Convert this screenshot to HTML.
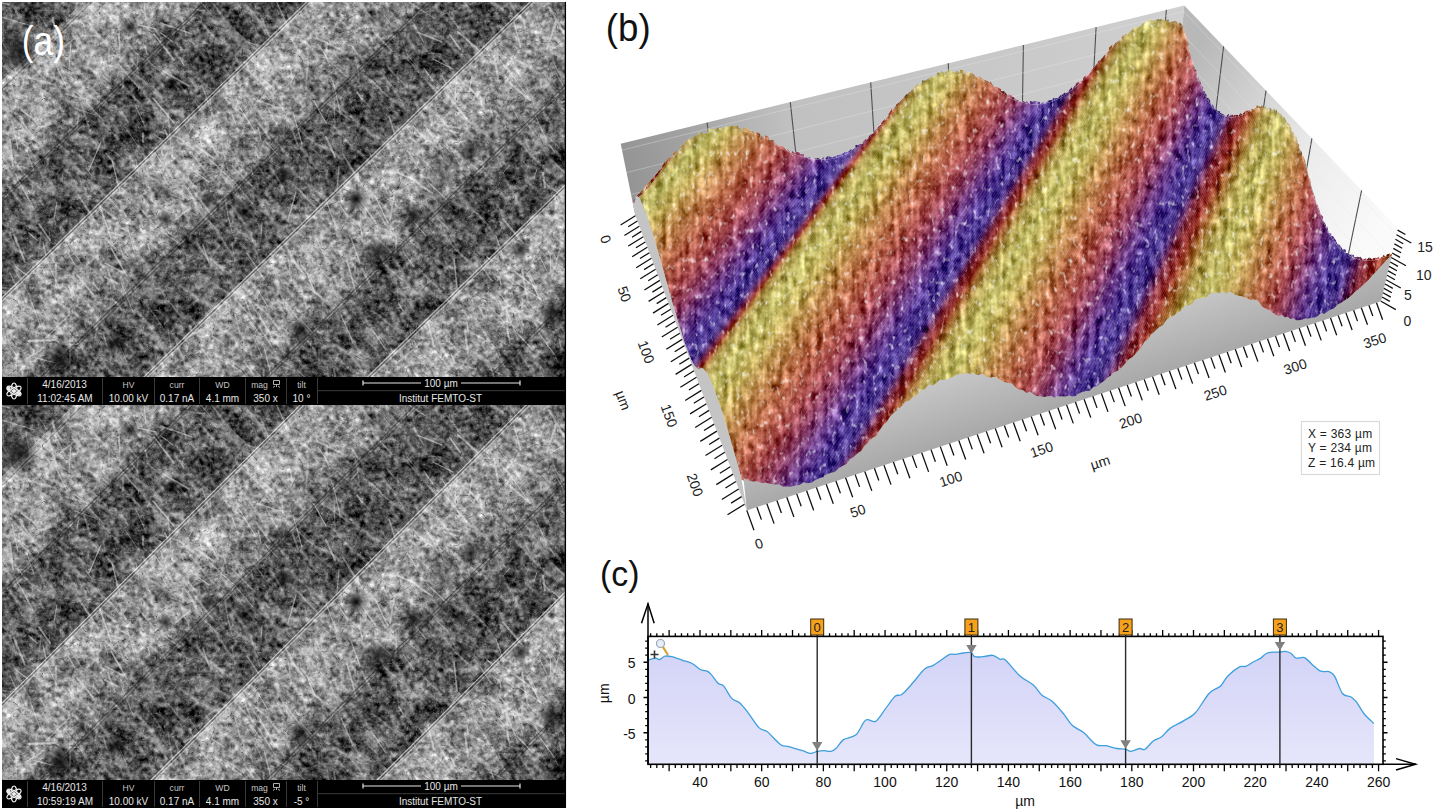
<!DOCTYPE html>
<html><head><meta charset="utf-8"><style>
html,body{margin:0;padding:0;background:#fff;width:1433px;height:811px;overflow:hidden}
svg{display:block}
</style></head><body>
<svg width="1433" height="811" viewBox="0 0 1433 811">
<rect width="1433" height="811" fill="#fff"/>
<linearGradient id="semband0" gradientUnits="userSpaceOnUse" x1="85.0" y1="0" x2="193.448" y2="111.701" spreadMethod="repeat"><stop offset="0.0000" stop-color="#929292"/><stop offset="0.0483" stop-color="#9a9a9a"/><stop offset="0.2900" stop-color="#939393"/><stop offset="0.4640" stop-color="#828282"/><stop offset="0.5414" stop-color="#686868"/><stop offset="0.5831" stop-color="#565656"/><stop offset="0.7915" stop-color="#525252"/><stop offset="0.9687" stop-color="#585858"/><stop offset="1.0000" stop-color="#5e5e5e"/></linearGradient>
<linearGradient id="semband1" gradientUnits="userSpaceOnUse" x1="76.0" y1="0" x2="189.000" y2="113.000" spreadMethod="repeat"><stop offset="0.0000" stop-color="#929292"/><stop offset="0.0454" stop-color="#9a9a9a"/><stop offset="0.2726" stop-color="#939393"/><stop offset="0.4362" stop-color="#828282"/><stop offset="0.5088" stop-color="#686868"/><stop offset="0.5535" stop-color="#565656"/><stop offset="0.7767" stop-color="#525252"/><stop offset="0.9665" stop-color="#585858"/><stop offset="1.0000" stop-color="#5e5e5e"/></linearGradient>
<filter id="semtex" x="0" y="0" width="1" height="1" color-interpolation-filters="sRGB">
<feTurbulence type="fractalNoise" baseFrequency="0.2" numOctaves="3" seed="4" result="n1"/>
<feColorMatrix in="n1" type="matrix" values="0.33 0.33 0.33 0 0 0.33 0.33 0.33 0 0 0.33 0.33 0.33 0 0 0 0 0 0 1" result="g1"/>
<feTurbulence type="fractalNoise" baseFrequency="0.04" numOctaves="3" seed="11" result="n2"/>
<feColorMatrix in="n2" type="matrix" values="0.33 0.33 0.33 0 0 0.33 0.33 0.33 0 0 0.33 0.33 0.33 0 0 0 0 0 0 1" result="g2"/>
<feComposite in="SourceGraphic" in2="g1" operator="arithmetic" k1="0" k2="1" k3="1.3" k4="-0.65" result="a"/>
<feComposite in="a" in2="g2" operator="arithmetic" k1="0" k2="1" k3="1.1" k4="-0.55"/>
</filter>
<filter id="semfib" x="0" y="0" width="1" height="1" color-interpolation-filters="sRGB">
<feTurbulence type="turbulence" baseFrequency="0.05 0.012" numOctaves="2" seed="9"/>
<feColorMatrix type="matrix" values="0 0 0 0 1 0 0 0 0 1 0 0 0 0 1 -9 0 0 0 1.3"/>
</filter>
<filter id="semfib2" x="0" y="0" width="1" height="1" color-interpolation-filters="sRGB">
<feTurbulence type="turbulence" baseFrequency="0.07" numOctaves="3" seed="21"/>
<feColorMatrix type="matrix" values="0 0 0 0 0 0 0 0 0 0 0 0 0 0 0 -7 0 0 0 0.9"/>
</filter>
<filter id="semfib3" x="0" y="0" width="1" height="1" color-interpolation-filters="sRGB">
<feTurbulence type="turbulence" baseFrequency="0.09" numOctaves="3" seed="33"/>
<feColorMatrix type="matrix" values="0 0 0 0 1 0 0 0 0 1 0 0 0 0 1 -7 0 0 0 0.9"/>
</filter>
<radialGradient id="dspot"><stop offset="0" stop-color="#000" stop-opacity="0.75"/><stop offset="0.5" stop-color="#000" stop-opacity="0.35"/><stop offset="1" stop-color="#000" stop-opacity="0"/></radialGradient>
<radialGradient id="bspot"><stop offset="0" stop-color="#fff" stop-opacity="0.35"/><stop offset="1" stop-color="#fff" stop-opacity="0"/></radialGradient>
<clipPath id="semclip"><rect x="2" y="2" width="564" height="375"/></clipPath>
<g transform="translate(0,0)">
<g clip-path="url(#semclip)">
<g>
<rect x="2" y="2" width="564" height="375" fill="url(#semband0)" filter="url(#semtex)"/>
<g transform="translate(284,190) rotate(-45)" opacity="0.3"><rect x="-360" y="-360" width="720" height="720" filter="url(#semfib)"/></g>
<rect x="2" y="2" width="564" height="375" filter="url(#semfib2)" opacity="0.45"/>
<rect x="2" y="2" width="564" height="375" filter="url(#semfib3)" opacity="0.3"/>
<g id="fibs" stroke="#f4f4f4" fill="none" stroke-linecap="round"><path d="M179 57l5 8" stroke-opacity="0.35" stroke-width="1.1"/><path d="M40 159l6 13" stroke-opacity="0.22" stroke-width="1.1"/><path d="M544 240l13 19" stroke-opacity="0.27" stroke-width="1.3"/><path d="M330 243l9 15" stroke-opacity="0.22" stroke-width="1.1"/><path d="M352 189l20 8" stroke-opacity="0.31" stroke-width="1.3"/><path d="M326 200l9 25" stroke-opacity="0.49" stroke-width="1.1"/><path d="M289 63l4 16" stroke-opacity="0.49" stroke-width="1.1"/><path d="M437 218l12 11" stroke-opacity="0.34" stroke-width="1.1"/><path d="M543 180l6 7" stroke-opacity="0.39" stroke-width="2.0"/><path d="M156 147l3 8" stroke-opacity="0.22" stroke-width="1.6"/><path d="M66 94l18 5" stroke-opacity="0.33" stroke-width="1.6"/><path d="M507 311l11 29" stroke-opacity="0.32" stroke-width="1.6"/><path d="M389 145l3 14" stroke-opacity="0.20" stroke-width="1.3"/><path d="M144 2l2 19" stroke-opacity="0.37" stroke-width="1.3"/><path d="M394 196l-4 24" stroke-opacity="0.43" stroke-width="2.0"/><path d="M223 150l5 20" stroke-opacity="0.26" stroke-width="1.3"/><path d="M248 42l10 4" stroke-opacity="0.38" stroke-width="1.1"/><path d="M62 323l21 27" stroke-opacity="0.35" stroke-width="1.1"/><path d="M74 285l16 22" stroke-opacity="0.26" stroke-width="1.6"/><path d="M299 372l19 17" stroke-opacity="0.31" stroke-width="1.3"/><path d="M284 242l11 21" stroke-opacity="0.27" stroke-width="2.0"/><path d="M153 98l21 25" stroke-opacity="0.48" stroke-width="1.6"/><path d="M123 75l0 13" stroke-opacity="0.34" stroke-width="1.6"/><path d="M458 32l24 21" stroke-opacity="0.43" stroke-width="2.0"/><path d="M510 165l-7 8" stroke-opacity="0.34" stroke-width="1.1"/><path d="M78 344l-12 1" stroke-opacity="0.40" stroke-width="1.6"/><path d="M428 53l13 1" stroke-opacity="0.26" stroke-width="1.3"/><path d="M437 124l22 4" stroke-opacity="0.42" stroke-width="2.0"/><path d="M474 334l10 5" stroke-opacity="0.43" stroke-width="1.1"/><path d="M352 46l5 8" stroke-opacity="0.36" stroke-width="2.0"/><path d="M135 105l9 19" stroke-opacity="0.33" stroke-width="1.3"/><path d="M395 172l20 8" stroke-opacity="0.48" stroke-width="1.6"/><path d="M252 158l11 15" stroke-opacity="0.26" stroke-width="1.6"/><path d="M449 341l8 9" stroke-opacity="0.40" stroke-width="1.3"/><path d="M138 52l-1 20" stroke-opacity="0.25" stroke-width="1.3"/><path d="M412 7l3 22" stroke-opacity="0.21" stroke-width="1.6"/><path d="M293 112l9 32" stroke-opacity="0.46" stroke-width="1.1"/><path d="M145 15l16 23" stroke-opacity="0.24" stroke-width="2.0"/><path d="M487 257l14 12" stroke-opacity="0.30" stroke-width="1.6"/><path d="M32 357l24 6" stroke-opacity="0.46" stroke-width="1.1"/><path d="M145 46l2 8" stroke-opacity="0.47" stroke-width="1.3"/><path d="M15 270l17 29" stroke-opacity="0.25" stroke-width="1.6"/><path d="M358 202l8 11" stroke-opacity="0.44" stroke-width="1.6"/><path d="M562 195l9 11" stroke-opacity="0.40" stroke-width="2.0"/><path d="M374 207l18 26" stroke-opacity="0.26" stroke-width="1.3"/><path d="M190 316l13 21" stroke-opacity="0.24" stroke-width="1.1"/><path d="M395 17l5 12" stroke-opacity="0.20" stroke-width="1.6"/><path d="M199 0l12 14" stroke-opacity="0.35" stroke-width="1.1"/><path d="M43 310l6 10" stroke-opacity="0.32" stroke-width="1.6"/><path d="M300 285l7 24" stroke-opacity="0.30" stroke-width="2.0"/><path d="M77 275l16 19" stroke-opacity="0.45" stroke-width="2.0"/><path d="M296 192l-8 28" stroke-opacity="0.47" stroke-width="1.3"/><path d="M40 16l18 27" stroke-opacity="0.21" stroke-width="1.3"/><path d="M276 1l12 25" stroke-opacity="0.36" stroke-width="1.1"/><path d="M426 180l21 20" stroke-opacity="0.43" stroke-width="1.3"/><path d="M423 371l17 12" stroke-opacity="0.43" stroke-width="1.3"/><path d="M35 56l6 13" stroke-opacity="0.29" stroke-width="1.3"/><path d="M383 263l19 17" stroke-opacity="0.34" stroke-width="1.1"/><path d="M571 209l8 14" stroke-opacity="0.34" stroke-width="1.6"/><path d="M258 312l16 29" stroke-opacity="0.48" stroke-width="1.3"/><path d="M34 34l4 14" stroke-opacity="0.38" stroke-width="1.6"/><path d="M509 267l1 14" stroke-opacity="0.21" stroke-width="1.1"/><path d="M546 259l13 14" stroke-opacity="0.24" stroke-width="1.6"/><path d="M-9 285l-7 9" stroke-opacity="0.47" stroke-width="1.6"/><path d="M138 25l18 4" stroke-opacity="0.48" stroke-width="1.6"/><path d="M490 107l3 9" stroke-opacity="0.39" stroke-width="1.3"/><path d="M101 142l-12 28" stroke-opacity="0.47" stroke-width="1.3"/><path d="M411 19l13 24" stroke-opacity="0.29" stroke-width="1.1"/><path d="M233 107l12 9" stroke-opacity="0.40" stroke-width="2.0"/><path d="M119 344l8 18" stroke-opacity="0.30" stroke-width="1.1"/><path d="M177 140l10 27" stroke-opacity="0.21" stroke-width="2.0"/><path d="M326 137l9 20" stroke-opacity="0.47" stroke-width="2.0"/><path d="M224 169l-30 13" stroke-opacity="0.21" stroke-width="1.1"/><path d="M239 290l1 29" stroke-opacity="0.22" stroke-width="2.0"/><path d="M80 198l18 27" stroke-opacity="0.39" stroke-width="2.0"/><path d="M40 295l4 7" stroke-opacity="0.41" stroke-width="1.3"/><path d="M356 201l10 17" stroke-opacity="0.23" stroke-width="1.6"/><path d="M121 228l8 3" stroke-opacity="0.39" stroke-width="1.3"/><path d="M268 89l-9 12" stroke-opacity="0.29" stroke-width="1.1"/><path d="M104 336l3 10" stroke-opacity="0.33" stroke-width="1.6"/><path d="M123 13l9 14" stroke-opacity="0.44" stroke-width="1.1"/><path d="M470 88l9 11" stroke-opacity="0.29" stroke-width="2.0"/><path d="M523 21l23 4" stroke-opacity="0.21" stroke-width="1.3"/><path d="M56 30l8 9" stroke-opacity="0.34" stroke-width="1.6"/><path d="M154 134l9 7" stroke-opacity="0.31" stroke-width="1.6"/><path d="M471 164l7 6" stroke-opacity="0.31" stroke-width="2.0"/><path d="M103 138l2 8" stroke-opacity="0.21" stroke-width="1.1"/><path d="M261 305l8 5" stroke-opacity="0.22" stroke-width="1.6"/><path d="M202 127l16 29" stroke-opacity="0.48" stroke-width="1.6"/><path d="M-8 287l24 2" stroke-opacity="0.27" stroke-width="2.0"/><path d="M409 177l23 16" stroke-opacity="0.47" stroke-width="2.0"/><path d="M535 115l11 24" stroke-opacity="0.34" stroke-width="1.1"/><path d="M309 61l-3 19" stroke-opacity="0.22" stroke-width="1.1"/><path d="M112 160l8 32" stroke-opacity="0.47" stroke-width="1.3"/><path d="M428 322l6 25" stroke-opacity="0.45" stroke-width="1.6"/><path d="M142 167l7 10" stroke-opacity="0.26" stroke-width="1.1"/><path d="M222 377l-4 21" stroke-opacity="0.44" stroke-width="2.0"/><path d="M570 39l-18 10" stroke-opacity="0.47" stroke-width="1.1"/><path d="M503 88l4 9" stroke-opacity="0.22" stroke-width="1.3"/><path d="M253 99l27 9" stroke-opacity="0.38" stroke-width="1.6"/><path d="M173 77l14 17" stroke-opacity="0.23" stroke-width="2.0"/><path d="M568 254l9 16" stroke-opacity="0.32" stroke-width="1.1"/><path d="M105 277l12 6" stroke-opacity="0.47" stroke-width="2.0"/><path d="M56 34l10 21" stroke-opacity="0.22" stroke-width="1.3"/><path d="M75 108l20 7" stroke-opacity="0.35" stroke-width="1.3"/><path d="M524 120l14 19" stroke-opacity="0.23" stroke-width="1.3"/><path d="M365 326l19 15" stroke-opacity="0.21" stroke-width="1.3"/><path d="M414 341l4 8" stroke-opacity="0.43" stroke-width="1.1"/><path d="M257 323l15 24" stroke-opacity="0.32" stroke-width="1.6"/><path d="M251 167l2 8" stroke-opacity="0.35" stroke-width="1.3"/><path d="M251 235l9 28" stroke-opacity="0.22" stroke-width="1.6"/><path d="M288 15l4 9" stroke-opacity="0.22" stroke-width="2.0"/><path d="M29 233l8 7" stroke-opacity="0.47" stroke-width="1.6"/><path d="M451 354l4 9" stroke-opacity="0.47" stroke-width="1.6"/><path d="M106 153l9 12" stroke-opacity="0.31" stroke-width="1.6"/><path d="M57 202l-3 17" stroke-opacity="0.37" stroke-width="1.1"/><path d="M137 204l19 23" stroke-opacity="0.31" stroke-width="1.3"/><path d="M93 283l6 7" stroke-opacity="0.39" stroke-width="1.6"/><path d="M160 238l5 18" stroke-opacity="0.21" stroke-width="2.0"/><path d="M123 248l5 7" stroke-opacity="0.31" stroke-width="1.3"/><path d="M232 114l4 11" stroke-opacity="0.45" stroke-width="1.3"/><path d="M77 36l-19 16" stroke-opacity="0.32" stroke-width="1.6"/><path d="M556 21l-9 28" stroke-opacity="0.37" stroke-width="2.0"/><path d="M24 296l3 8" stroke-opacity="0.26" stroke-width="2.0"/><path d="M466 66l8 14" stroke-opacity="0.21" stroke-width="2.0"/><path d="M409 2l25 16" stroke-opacity="0.34" stroke-width="1.3"/><path d="M573 99l-11 3" stroke-opacity="0.48" stroke-width="1.6"/><path d="M245 300l8 20" stroke-opacity="0.39" stroke-width="1.3"/><path d="M519 320l4 13" stroke-opacity="0.32" stroke-width="1.3"/><path d="M212 324l-28 15" stroke-opacity="0.36" stroke-width="2.0"/><path d="M481 265l11 16" stroke-opacity="0.37" stroke-width="1.6"/><path d="M452 149l10 21" stroke-opacity="0.23" stroke-width="1.3"/><path d="M14 263l11 24" stroke-opacity="0.22" stroke-width="1.6"/><path d="M379 334l12 23" stroke-opacity="0.21" stroke-width="1.1"/><path d="M48 37l8 27" stroke-opacity="0.30" stroke-width="2.0"/><path d="M143 133l0 9" stroke-opacity="0.38" stroke-width="2.0"/><path d="M232 166l20 20" stroke-opacity="0.41" stroke-width="1.3"/><path d="M158 166l10 19" stroke-opacity="0.30" stroke-width="1.1"/><path d="M278 303l7 11" stroke-opacity="0.30" stroke-width="1.6"/><path d="M328 60l22 19" stroke-opacity="0.25" stroke-width="1.1"/><path d="M51 124l-10 3" stroke-opacity="0.42" stroke-width="2.0"/><path d="M212 336l12 8" stroke-opacity="0.43" stroke-width="1.1"/><path d="M194 124l-6 11" stroke-opacity="0.42" stroke-width="1.3"/><path d="M125 127l15 22" stroke-opacity="0.28" stroke-width="1.3"/><path d="M413 370l16 22" stroke-opacity="0.49" stroke-width="1.6"/><path d="M560 277l10 3" stroke-opacity="0.32" stroke-width="1.3"/><path d="M105 242l3 10" stroke-opacity="0.32" stroke-width="1.1"/><path d="M-3 325l4 19" stroke-opacity="0.21" stroke-width="1.6"/><path d="M343 154l16 27" stroke-opacity="0.37" stroke-width="2.0"/><path d="M485 254l19 24" stroke-opacity="0.25" stroke-width="1.1"/><path d="M256 119l14 20" stroke-opacity="0.33" stroke-width="2.0"/><path d="M407 239l11 9" stroke-opacity="0.32" stroke-width="1.3"/><path d="M513 125l-8 2" stroke-opacity="0.23" stroke-width="1.6"/><path d="M308 61l-2 28" stroke-opacity="0.23" stroke-width="2.0"/><path d="M307 273l8 20" stroke-opacity="0.45" stroke-width="1.6"/><path d="M230 360l11 8" stroke-opacity="0.24" stroke-width="1.6"/><path d="M26 29l4 24" stroke-opacity="0.37" stroke-width="1.1"/><path d="M121 282l12 30" stroke-opacity="0.32" stroke-width="1.3"/><path d="M457 73l-2 25" stroke-opacity="0.44" stroke-width="1.3"/><path d="M197 243l16 24" stroke-opacity="0.24" stroke-width="2.0"/><path d="M210 96l2 19" stroke-opacity="0.20" stroke-width="1.6"/><path d="M515 58l2 16" stroke-opacity="0.30" stroke-width="1.3"/><path d="M161 231l19 13" stroke-opacity="0.34" stroke-width="1.3"/><path d="M347 261l9 32" stroke-opacity="0.47" stroke-width="1.6"/><path d="M105 263l19 10" stroke-opacity="0.37" stroke-width="1.6"/><path d="M235 314l5 20" stroke-opacity="0.35" stroke-width="1.3"/><path d="M341 279l7 10" stroke-opacity="0.29" stroke-width="2.0"/><path d="M209 159l24 22" stroke-opacity="0.39" stroke-width="1.1"/><path d="M2 17l33 10" stroke-opacity="0.35" stroke-width="1.3"/><path d="M10 273l7 15" stroke-opacity="0.34" stroke-width="1.3"/><path d="M21 110l14 10" stroke-opacity="0.46" stroke-width="1.6"/><path d="M560 249l-8 27" stroke-opacity="0.30" stroke-width="1.6"/><path d="M53 18l3 20" stroke-opacity="0.36" stroke-width="2.0"/><path d="M351 238l9 25" stroke-opacity="0.40" stroke-width="1.3"/><path d="M13 241l3 12" stroke-opacity="0.23" stroke-width="1.1"/><path d="M206 313l15 17" stroke-opacity="0.29" stroke-width="2.0"/><path d="M295 313l16 23" stroke-opacity="0.22" stroke-width="2.0"/><path d="M337 377l9 8" stroke-opacity="0.36" stroke-width="1.1"/><path d="M-1 2l11 3" stroke-opacity="0.46" stroke-width="1.3"/><path d="M266 105l11 20" stroke-opacity="0.31" stroke-width="1.3"/><path d="M417 32l25 10" stroke-opacity="0.48" stroke-width="1.6"/><path d="M524 20l1 9" stroke-opacity="0.39" stroke-width="2.0"/><path d="M205 218l14 13" stroke-opacity="0.24" stroke-width="1.1"/><path d="M203 245l6 18" stroke-opacity="0.44" stroke-width="1.6"/><path d="M161 23l31 11" stroke-opacity="0.45" stroke-width="1.6"/><path d="M499 276l2 8" stroke-opacity="0.49" stroke-width="1.3"/><path d="M210 260l20 24" stroke-opacity="0.20" stroke-width="1.6"/><path d="M147 60l21 18" stroke-opacity="0.29" stroke-width="1.3"/><path d="M465 330l3 23" stroke-opacity="0.41" stroke-width="2.0"/><path d="M456 76l20 18" stroke-opacity="0.38" stroke-width="2.0"/><path d="M262 79l12 9" stroke-opacity="0.44" stroke-width="2.0"/><path d="M27 151l7 20" stroke-opacity="0.35" stroke-width="1.3"/><path d="M101 73l8 9" stroke-opacity="0.31" stroke-width="1.6"/><path d="M225 197l2 12" stroke-opacity="0.23" stroke-width="2.0"/><path d="M192 197l4 8" stroke-opacity="0.50" stroke-width="2.0"/><path d="M333 81l7 31" stroke-opacity="0.38" stroke-width="1.3"/><path d="M139 14l4 13" stroke-opacity="0.23" stroke-width="1.1"/><path d="M10 140l3 26" stroke-opacity="0.46" stroke-width="2.0"/><path d="M529 268l9 5" stroke-opacity="0.27" stroke-width="1.1"/><path d="M550 254l1 18" stroke-opacity="0.50" stroke-width="1.3"/><path d="M91 358l-2 9" stroke-opacity="0.21" stroke-width="1.1"/><path d="M141 195l16 22" stroke-opacity="0.30" stroke-width="1.1"/><path d="M540 257l7 14" stroke-opacity="0.43" stroke-width="1.1"/><path d="M265 141l12 13" stroke-opacity="0.44" stroke-width="1.1"/><path d="M264 347l7 28" stroke-opacity="0.45" stroke-width="1.1"/><path d="M536 329l18 25" stroke-opacity="0.48" stroke-width="1.1"/><path d="M358 172l1 17" stroke-opacity="0.39" stroke-width="1.3"/><path d="M254 338l8 18" stroke-opacity="0.33" stroke-width="1.3"/><path d="M81 103l9 28" stroke-opacity="0.30" stroke-width="2.0"/><path d="M514 254l2 13" stroke-opacity="0.29" stroke-width="1.6"/><path d="M432 369l9 17" stroke-opacity="0.32" stroke-width="2.0"/><path d="M514 22l7 26" stroke-opacity="0.49" stroke-width="1.1"/><path d="M249 300l17 28" stroke-opacity="0.32" stroke-width="1.6"/><path d="M324 52l5 12" stroke-opacity="0.41" stroke-width="1.3"/><path d="M341 315l11 25" stroke-opacity="0.40" stroke-width="1.3"/><path d="M331 77l3 9" stroke-opacity="0.32" stroke-width="1.1"/><path d="M293 132l5 14" stroke-opacity="0.32" stroke-width="2.0"/><path d="M68 253l7 12" stroke-opacity="0.50" stroke-width="1.1"/><path d="M-7 198l2 19" stroke-opacity="0.44" stroke-width="1.6"/><path d="M446 330l14 18" stroke-opacity="0.23" stroke-width="2.0"/><path d="M251 10l2 11" stroke-opacity="0.23" stroke-width="1.3"/><path d="M549 7l16 28" stroke-opacity="0.39" stroke-width="2.0"/><path d="M296 267l-7 8" stroke-opacity="0.21" stroke-width="1.1"/><path d="M262 223l-1 11" stroke-opacity="0.47" stroke-width="1.3"/><path d="M494 56l4 22" stroke-opacity="0.48" stroke-width="2.0"/><path d="M396 227l-0 24" stroke-opacity="0.49" stroke-width="1.1"/><path d="M444 129l14 4" stroke-opacity="0.44" stroke-width="1.6"/><path d="M467 322l1 9" stroke-opacity="0.49" stroke-width="1.6"/><path d="M136 160l3 17" stroke-opacity="0.35" stroke-width="1.1"/><path d="M496 236l8 23" stroke-opacity="0.44" stroke-width="1.1"/><path d="M244 361l9 13" stroke-opacity="0.38" stroke-width="1.6"/><path d="M39 224l11 16" stroke-opacity="0.47" stroke-width="2.0"/><path d="M328 104l22 16" stroke-opacity="0.27" stroke-width="2.0"/><path d="M108 270l7 19" stroke-opacity="0.38" stroke-width="2.0"/><path d="M100 207l11 31" stroke-opacity="0.49" stroke-width="1.6"/><path d="M568 112l7 10" stroke-opacity="0.46" stroke-width="2.0"/><path d="M375 196l13 27" stroke-opacity="0.50" stroke-width="1.3"/><path d="M108 232l15 4" stroke-opacity="0.46" stroke-width="2.0"/><path d="M147 240l19 16" stroke-opacity="0.32" stroke-width="1.1"/><path d="M234 298l21 23" stroke-opacity="0.34" stroke-width="1.6"/><path d="M161 148l6 22" stroke-opacity="0.30" stroke-width="2.0"/><path d="M213 114l4 22" stroke-opacity="0.31" stroke-width="1.3"/><path d="M41 350l-14 8" stroke-opacity="0.49" stroke-width="1.3"/><path d="M559 339l2 8" stroke-opacity="0.36" stroke-width="1.6"/><path d="M293 260l11 14" stroke-opacity="0.38" stroke-width="1.6"/><path d="M439 342l11 21" stroke-opacity="0.31" stroke-width="1.6"/><path d="M55 340l-26 1" stroke-opacity="0.47" stroke-width="2.0"/><path d="M359 199l17 24" stroke-opacity="0.47" stroke-width="2.0"/><path d="M97 239l1 24" stroke-opacity="0.21" stroke-width="2.0"/><path d="M-4 1l7 21" stroke-opacity="0.23" stroke-width="1.1"/><path d="M314 101l12 22" stroke-opacity="0.50" stroke-width="1.3"/><path d="M90 199l23 5" stroke-opacity="0.20" stroke-width="1.6"/><path d="M74 91l12 9" stroke-opacity="0.48" stroke-width="1.1"/><path d="M194 171l15 11" stroke-opacity="0.47" stroke-width="1.1"/><path d="M16 354l1 30" stroke-opacity="0.29" stroke-width="1.6"/><path d="M552 188l11 10" stroke-opacity="0.42" stroke-width="1.3"/><path d="M232 151l10 24" stroke-opacity="0.25" stroke-width="2.0"/><path d="M318 44l12 18" stroke-opacity="0.32" stroke-width="1.1"/><path d="M552 160l16 16" stroke-opacity="0.33" stroke-width="1.6"/><path d="M479 306l5 11" stroke-opacity="0.42" stroke-width="2.0"/><path d="M358 221l5 15" stroke-opacity="0.40" stroke-width="1.6"/><path d="M339 167l-2 22" stroke-opacity="0.35" stroke-width="1.3"/><path d="M500 47l11 18" stroke-opacity="0.32" stroke-width="1.3"/><path d="M172 148l-0 10" stroke-opacity="0.46" stroke-width="1.6"/><path d="M525 306l14 24" stroke-opacity="0.29" stroke-width="2.0"/><path d="M155 153l18 26" stroke-opacity="0.46" stroke-width="1.3"/><path d="M538 67l12 13" stroke-opacity="0.21" stroke-width="2.0"/><path d="M358 69l-7 8" stroke-opacity="0.41" stroke-width="1.1"/><path d="M433 59l20 10" stroke-opacity="0.48" stroke-width="1.3"/><path d="M324 272l8 12" stroke-opacity="0.20" stroke-width="1.6"/><path d="M517 333l16 17" stroke-opacity="0.49" stroke-width="1.1"/><path d="M12 121l6 28" stroke-opacity="0.42" stroke-width="1.3"/><path d="M154 34l20 26" stroke-opacity="0.48" stroke-width="2.0"/><path d="M288 257l2 13" stroke-opacity="0.35" stroke-width="1.3"/><path d="M16 267l12 9" stroke-opacity="0.49" stroke-width="1.3"/><path d="M308 95l6 7" stroke-opacity="0.29" stroke-width="1.3"/><path d="M391 185l8 19" stroke-opacity="0.20" stroke-width="2.0"/><path d="M68 244l15 22" stroke-opacity="0.27" stroke-width="1.1"/><path d="M311 289l10 8" stroke-opacity="0.38" stroke-width="2.0"/><path d="M481 154l2 13" stroke-opacity="0.21" stroke-width="1.6"/><path d="M553 61l9 18" stroke-opacity="0.29" stroke-width="1.1"/><path d="M17 178l16 29" stroke-opacity="0.42" stroke-width="1.6"/><path d="M101 206l-4 7" stroke-opacity="0.39" stroke-width="1.6"/><path d="M372 30l19 20" stroke-opacity="0.32" stroke-width="1.3"/><path d="M163 71l26 15" stroke-opacity="0.44" stroke-width="1.6"/><path d="M424 124l7 11" stroke-opacity="0.31" stroke-width="1.6"/><path d="M480 96l2 9" stroke-opacity="0.50" stroke-width="2.0"/><path d="M282 60l14 6" stroke-opacity="0.22" stroke-width="1.3"/><path d="M86 168l6 8" stroke-opacity="0.42" stroke-width="1.1"/><path d="M9 232l9 20" stroke-opacity="0.22" stroke-width="1.1"/><path d="M247 253l17 26" stroke-opacity="0.37" stroke-width="1.6"/><path d="M356 59l3 18" stroke-opacity="0.22" stroke-width="1.1"/><path d="M413 126l17 18" stroke-opacity="0.40" stroke-width="1.3"/><path d="M165 130l3 8" stroke-opacity="0.40" stroke-width="2.0"/><path d="M429 84l17 19" stroke-opacity="0.27" stroke-width="2.0"/><path d="M123 218l9 7" stroke-opacity="0.38" stroke-width="1.1"/><path d="M488 258l10 5" stroke-opacity="0.48" stroke-width="1.1"/><path d="M556 73l10 18" stroke-opacity="0.31" stroke-width="1.1"/><path d="M401 363l1 20" stroke-opacity="0.23" stroke-width="1.3"/><path d="M319 349l-0 12" stroke-opacity="0.30" stroke-width="1.1"/><path d="M421 360l15 22" stroke-opacity="0.36" stroke-width="1.1"/><path d="M10 346l8 12" stroke-opacity="0.41" stroke-width="1.1"/><path d="M2 42l7 11" stroke-opacity="0.31" stroke-width="1.3"/><path d="M334 95l1 28" stroke-opacity="0.33" stroke-width="1.1"/><path d="M501 304l3 9" stroke-opacity="0.32" stroke-width="2.0"/><path d="M556 263l16 12" stroke-opacity="0.49" stroke-width="1.1"/><path d="M201 201l10 13" stroke-opacity="0.45" stroke-width="2.0"/><path d="M184 178l19 26" stroke-opacity="0.30" stroke-width="2.0"/><path d="M185 8l20 3" stroke-opacity="0.24" stroke-width="1.3"/><path d="M143 216l-22 1" stroke-opacity="0.21" stroke-width="1.1"/><path d="M500 294l15 19" stroke-opacity="0.44" stroke-width="1.3"/><path d="M389 116l8 26" stroke-opacity="0.39" stroke-width="1.6"/><path d="M501 272l12 12" stroke-opacity="0.43" stroke-width="1.6"/><path d="M513 308l30 16" stroke-opacity="0.26" stroke-width="2.0"/><path d="M227 151l-8 27" stroke-opacity="0.24" stroke-width="1.6"/><path d="M137 217l24 6" stroke-opacity="0.26" stroke-width="1.1"/><path d="M264 369l-1 26" stroke-opacity="0.30" stroke-width="1.3"/><path d="M86 102l18 19" stroke-opacity="0.32" stroke-width="1.3"/><path d="M512 107l10 19" stroke-opacity="0.24" stroke-width="1.1"/><path d="M36 308l11 29" stroke-opacity="0.24" stroke-width="1.3"/><path d="M148 244l2 8" stroke-opacity="0.46" stroke-width="1.1"/><path d="M370 154l7 15" stroke-opacity="0.32" stroke-width="1.1"/><path d="M41 233l-4 33" stroke-opacity="0.21" stroke-width="1.6"/><path d="M349 275l11 12" stroke-opacity="0.25" stroke-width="1.3"/><path d="M300 319l12 13" stroke-opacity="0.46" stroke-width="1.3"/><path d="M375 229l2 17" stroke-opacity="0.28" stroke-width="2.0"/><path d="M442 371l19 7" stroke-opacity="0.24" stroke-width="1.1"/><path d="M317 38l26 13" stroke-opacity="0.39" stroke-width="2.0"/><path d="M68 23l12 17" stroke-opacity="0.25" stroke-width="1.6"/><path d="M421 343l-24 20" stroke-opacity="0.36" stroke-width="1.6"/><path d="M445 92l21 26" stroke-opacity="0.44" stroke-width="2.0"/><path d="M114 300l6 7" stroke-opacity="0.20" stroke-width="2.0"/><path d="M210 345l8 16" stroke-opacity="0.21" stroke-width="2.0"/><path d="M239 106l16 26" stroke-opacity="0.49" stroke-width="1.3"/><path d="M269 355l25 12" stroke-opacity="0.29" stroke-width="1.1"/><path d="M184 185l19 25" stroke-opacity="0.34" stroke-width="1.1"/><path d="M506 80l24 20" stroke-opacity="0.43" stroke-width="2.0"/><path d="M97 328l-3 16" stroke-opacity="0.20" stroke-width="1.6"/><path d="M78 280l-1 11" stroke-opacity="0.40" stroke-width="1.1"/><path d="M232 244l3 18" stroke-opacity="0.26" stroke-width="1.1"/><path d="M570 120l8 8" stroke-opacity="0.24" stroke-width="2.0"/><path d="M360 207l2 34" stroke-opacity="0.22" stroke-width="1.3"/><path d="M489 369l13 6" stroke-opacity="0.41" stroke-width="1.1"/><path d="M145 26l7 6" stroke-opacity="0.31" stroke-width="1.1"/><path d="M181 16l5 19" stroke-opacity="0.30" stroke-width="2.0"/><path d="M565 332l17 6" stroke-opacity="0.32" stroke-width="2.0"/><path d="M506 305l2 31" stroke-opacity="0.27" stroke-width="1.6"/><path d="M396 277l3 29" stroke-opacity="0.21" stroke-width="1.1"/><path d="M227 212l5 19" stroke-opacity="0.34" stroke-width="1.1"/><path d="M190 208l-14 11" stroke-opacity="0.46" stroke-width="1.6"/><path d="M407 150l12 18" stroke-opacity="0.39" stroke-width="1.3"/><path d="M531 291l-13 6" stroke-opacity="0.30" stroke-width="2.0"/><path d="M433 138l9 10" stroke-opacity="0.31" stroke-width="1.3"/><path d="M79 251l-11 6" stroke-opacity="0.40" stroke-width="1.1"/><path d="M178 137l24 19" stroke-opacity="0.31" stroke-width="1.6"/><path d="M573 264l4 19" stroke-opacity="0.44" stroke-width="1.3"/><path d="M376 237l15 15" stroke-opacity="0.37" stroke-width="1.1"/><path d="M324 22l6 11" stroke-opacity="0.27" stroke-width="2.0"/><path d="M43 242l3 13" stroke-opacity="0.44" stroke-width="1.6"/><path d="M529 273l8 16" stroke-opacity="0.33" stroke-width="1.6"/><path d="M196 146l19 13" stroke-opacity="0.49" stroke-width="1.6"/><path d="M27 77l29 8" stroke-opacity="0.33" stroke-width="2.0"/><path d="M298 189l19 20" stroke-opacity="0.34" stroke-width="2.0"/><path d="M233 180l20 24" stroke-opacity="0.35" stroke-width="1.1"/><path d="M119 29l1 29" stroke-opacity="0.37" stroke-width="1.1"/><path d="M472 76l-3 17" stroke-opacity="0.42" stroke-width="1.3"/><path d="M574 310l2 12" stroke-opacity="0.36" stroke-width="1.1"/><path d="M99 205l16 14" stroke-opacity="0.29" stroke-width="2.0"/><path d="M168 329l5 30" stroke-opacity="0.26" stroke-width="1.1"/><path d="M111 248l16 28" stroke-opacity="0.48" stroke-width="1.6"/><path d="M20 119l13 17" stroke-opacity="0.37" stroke-width="1.6"/><path d="M11 83l5 19" stroke-opacity="0.38" stroke-width="2.0"/><path d="M537 169l-3 9" stroke-opacity="0.39" stroke-width="1.1"/><path d="M70 334l-0 29" stroke-opacity="0.42" stroke-width="1.3"/><path d="M281 256l11 23" stroke-opacity="0.26" stroke-width="1.3"/><path d="M49 36l8 27" stroke-opacity="0.40" stroke-width="1.6"/><path d="M403 168l-18 5" stroke-opacity="0.24" stroke-width="1.3"/><path d="M479 112l9 11" stroke-opacity="0.25" stroke-width="1.6"/><path d="M458 372l2 18" stroke-opacity="0.31" stroke-width="1.6"/><path d="M121 207l5 9" stroke-opacity="0.40" stroke-width="1.1"/><path d="M13 134l18 17" stroke-opacity="0.40" stroke-width="1.1"/><path d="M160 132l20 6" stroke-opacity="0.35" stroke-width="1.6"/><path d="M340 205l6 9" stroke-opacity="0.45" stroke-width="1.3"/><path d="M79 114l-2 12" stroke-opacity="0.34" stroke-width="1.6"/><path d="M424 68l9 13" stroke-opacity="0.37" stroke-width="1.3"/><path d="M290 37l13 21" stroke-opacity="0.37" stroke-width="1.6"/><path d="M35 276l14 23" stroke-opacity="0.20" stroke-width="2.0"/><path d="M130 58l9 12" stroke-opacity="0.30" stroke-width="1.3"/><path d="M109 48l-0 14" stroke-opacity="0.47" stroke-width="1.1"/><path d="M52 20l12 23" stroke-opacity="0.25" stroke-width="1.6"/><path d="M574 161l6 9" stroke-opacity="0.24" stroke-width="1.3"/><path d="M127 226l8 27" stroke-opacity="0.38" stroke-width="1.1"/><path d="M14 235l11 27" stroke-opacity="0.44" stroke-width="2.0"/><path d="M336 69l-13 10" stroke-opacity="0.21" stroke-width="1.3"/><path d="M457 293l-7 11" stroke-opacity="0.41" stroke-width="1.1"/><path d="M281 296l19 26" stroke-opacity="0.39" stroke-width="1.6"/><path d="M450 35l10 14" stroke-opacity="0.49" stroke-width="2.0"/><path d="M69 315l-23 23" stroke-opacity="0.45" stroke-width="1.3"/><path d="M245 314l17 23" stroke-opacity="0.49" stroke-width="1.1"/><path d="M30 298l10 27" stroke-opacity="0.38" stroke-width="1.3"/><path d="M503 219l20 24" stroke-opacity="0.40" stroke-width="2.0"/><path d="M454 259l3 29" stroke-opacity="0.45" stroke-width="1.6"/><path d="M168 114l3 33" stroke-opacity="0.32" stroke-width="1.6"/><path d="M258 127l3 13" stroke-opacity="0.45" stroke-width="1.1"/><path d="M161 33l12 9" stroke-opacity="0.44" stroke-width="1.1"/><path d="M117 238l6 17" stroke-opacity="0.30" stroke-width="1.3"/><path d="M202 85l8 23" stroke-opacity="0.35" stroke-width="1.3"/><path d="M491 368l6 17" stroke-opacity="0.46" stroke-width="1.1"/><path d="M543 173l2 14" stroke-opacity="0.46" stroke-width="2.0"/><path d="M69 286l4 14" stroke-opacity="0.35" stroke-width="1.6"/><path d="M250 364l11 13" stroke-opacity="0.36" stroke-width="1.1"/><path d="M561 22l19 22" stroke-opacity="0.37" stroke-width="2.0"/><path d="M172 195l11 4" stroke-opacity="0.34" stroke-width="1.1"/><path d="M334 219l3 9" stroke-opacity="0.42" stroke-width="1.6"/><path d="M357 92l5 7" stroke-opacity="0.49" stroke-width="2.0"/><path d="M518 123l12 27" stroke-opacity="0.21" stroke-width="1.6"/><path d="M513 76l17 24" stroke-opacity="0.40" stroke-width="1.1"/><path d="M334 369l2 17" stroke-opacity="0.28" stroke-width="2.0"/><path d="M53 99l4 18" stroke-opacity="0.26" stroke-width="2.0"/><path d="M303 251l16 26" stroke-opacity="0.22" stroke-width="2.0"/><path d="M202 349l13 17" stroke-opacity="0.43" stroke-width="1.1"/><path d="M301 265l10 13" stroke-opacity="0.31" stroke-width="1.3"/><path d="M508 333l2 10" stroke-opacity="0.41" stroke-width="1.6"/><path d="M87 67l23 14" stroke-opacity="0.24" stroke-width="2.0"/><path d="M221 357l22 16" stroke-opacity="0.30" stroke-width="1.3"/><path d="M407 54l12 15" stroke-opacity="0.26" stroke-width="1.1"/><path d="M531 25l1 8" stroke-opacity="0.27" stroke-width="2.0"/><path d="M484 300l20 22" stroke-opacity="0.35" stroke-width="1.6"/><path d="M516 282l24 17" stroke-opacity="0.46" stroke-width="1.3"/><path d="M514 271l22 17" stroke-opacity="0.47" stroke-width="1.6"/><path d="M45 257l14 30" stroke-opacity="0.41" stroke-width="1.1"/><path d="M258 290l10 17" stroke-opacity="0.49" stroke-width="1.1"/><path d="M13 314l7 8" stroke-opacity="0.30" stroke-width="1.3"/><path d="M117 302l-11 8" stroke-opacity="0.36" stroke-width="1.1"/><path d="M120 66l19 22" stroke-opacity="0.31" stroke-width="1.6"/><path d="M414 222l12 14" stroke-opacity="0.46" stroke-width="1.1"/><path d="M460 365l16 4" stroke-opacity="0.34" stroke-width="1.3"/><path d="M242 368l18 25" stroke-opacity="0.26" stroke-width="1.3"/><path d="M55 63l12 25" stroke-opacity="0.43" stroke-width="1.3"/><path d="M442 76l15 26" stroke-opacity="0.44" stroke-width="1.1"/><path d="M528 275l12 24" stroke-opacity="0.46" stroke-width="1.6"/><path d="M316 238l10 21" stroke-opacity="0.31" stroke-width="1.1"/><path d="M516 306l7 19" stroke-opacity="0.43" stroke-width="2.0"/><path d="M176 341l11 28" stroke-opacity="0.28" stroke-width="2.0"/><path d="M522 270l6 32" stroke-opacity="0.42" stroke-width="2.0"/><path d="M71 42l-2 27" stroke-opacity="0.49" stroke-width="1.1"/><path d="M261 16l8 20" stroke-opacity="0.30" stroke-width="2.0"/><path d="M362 269l9 17" stroke-opacity="0.34" stroke-width="2.0"/><path d="M371 328l15 22" stroke-opacity="0.46" stroke-width="1.3"/><path d="M399 304l4 7" stroke-opacity="0.42" stroke-width="1.1"/><path d="M-9 177l-18 2" stroke-opacity="0.43" stroke-width="1.1"/><path d="M534 243l21 24" stroke-opacity="0.25" stroke-width="1.1"/><path d="M270 363l26 8" stroke-opacity="0.24" stroke-width="1.3"/><path d="M550 145l5 8" stroke-opacity="0.37" stroke-width="1.1"/><path d="M403 251l11 16" stroke-opacity="0.37" stroke-width="1.3"/><path d="M4 315l5 29" stroke-opacity="0.26" stroke-width="2.0"/><path d="M565 233l2 10" stroke-opacity="0.40" stroke-width="1.1"/><path d="M417 323l7 8" stroke-opacity="0.24" stroke-width="1.6"/><path d="M56 263l-0 24" stroke-opacity="0.34" stroke-width="2.0"/><path d="M3 22l0 25" stroke-opacity="0.22" stroke-width="1.6"/></g>
<g id="spots"><circle cx="130" cy="27" r="10" fill="url(#dspot)"/><circle cx="172" cy="84" r="8" fill="url(#dspot)"/><circle cx="165" cy="219" r="9" fill="url(#dspot)"/><circle cx="246" cy="212" r="10" fill="url(#dspot)"/><circle cx="284" cy="175" r="11" fill="url(#dspot)"/><circle cx="356" cy="199" r="7" fill="url(#dspot)"/><circle cx="356" cy="199" r="14" fill="url(#dspot)"/><circle cx="413" cy="214" r="13" fill="url(#dspot)"/><circle cx="551" cy="313" r="13" fill="url(#dspot)"/><circle cx="378" cy="251" r="16" fill="url(#dspot)"/><circle cx="116" cy="343" r="12" fill="url(#dspot)"/><circle cx="208" cy="200" r="9" fill="url(#dspot)"/><circle cx="20" cy="50" r="22" fill="url(#dspot)"/><circle cx="60" cy="360" r="16" fill="url(#dspot)"/><circle cx="300" cy="330" r="14" fill="url(#dspot)"/><circle cx="470" cy="150" r="12" fill="url(#dspot)"/><circle cx="520" cy="250" r="10" fill="url(#dspot)"/><ellipse cx="95" cy="60" rx="28" ry="12" transform="rotate(60 95 60)" fill="url(#bspot)"/><ellipse cx="300" cy="95" rx="22" ry="10" transform="rotate(60 300 95)" fill="url(#bspot)"/><ellipse cx="520" cy="75" rx="25" ry="12" transform="rotate(60 520 75)" fill="url(#bspot)"/><ellipse cx="430" cy="330" rx="22" ry="10" transform="rotate(60 430 330)" fill="url(#bspot)"/><ellipse cx="150" cy="290" rx="20" ry="10" transform="rotate(60 150 290)" fill="url(#bspot)"/></g>
<line x1="-550.5" y1="400" x2="-138.5" y2="0" stroke="#f0f0f0" stroke-opacity="0.55" stroke-width="1.2"/>
<line x1="-548.5" y1="400" x2="-136.5" y2="0" stroke="#202020" stroke-opacity="0.35" stroke-width="1.2"/>
<line x1="-546.5" y1="400" x2="-134.5" y2="0" stroke="#f0f0f0" stroke-opacity="0.45" stroke-width="1.2"/>
<line x1="-429.5" y1="400" x2="-17.5" y2="0" stroke="#181818" stroke-opacity="0.45" stroke-width="1.2"/>
<line x1="-425.5" y1="400" x2="-13.5" y2="0" stroke="#181818" stroke-opacity="0.35" stroke-width="1.2"/>
<line x1="-320.0" y1="400" x2="92.0" y2="0" stroke="#f0f0f0" stroke-opacity="0.275" stroke-width="1.2"/>
<line x1="-318.0" y1="400" x2="94.0" y2="0" stroke="#202020" stroke-opacity="0.175" stroke-width="1.2"/>
<line x1="-316.0" y1="400" x2="96.0" y2="0" stroke="#f0f0f0" stroke-opacity="0.225" stroke-width="1.2"/>
<line x1="-206.0" y1="400" x2="206.0" y2="0" stroke="#181818" stroke-opacity="0.45" stroke-width="1.2"/>
<line x1="-202.0" y1="400" x2="210.0" y2="0" stroke="#181818" stroke-opacity="0.35" stroke-width="1.2"/>
<line x1="-103.5" y1="400" x2="308.5" y2="0" stroke="#f0f0f0" stroke-opacity="0.55" stroke-width="1.2"/>
<line x1="-101.5" y1="400" x2="310.5" y2="0" stroke="#202020" stroke-opacity="0.35" stroke-width="1.2"/>
<line x1="-99.5" y1="400" x2="312.5" y2="0" stroke="#f0f0f0" stroke-opacity="0.45" stroke-width="1.2"/>
<line x1="17.5" y1="400" x2="429.5" y2="0" stroke="#181818" stroke-opacity="0.45" stroke-width="1.2"/>
<line x1="21.5" y1="400" x2="433.5" y2="0" stroke="#181818" stroke-opacity="0.35" stroke-width="1.2"/>
<line x1="120.0" y1="400" x2="532.0" y2="0" stroke="#f0f0f0" stroke-opacity="0.55" stroke-width="1.2"/>
<line x1="122.0" y1="400" x2="534.0" y2="0" stroke="#202020" stroke-opacity="0.35" stroke-width="1.2"/>
<line x1="124.0" y1="400" x2="536.0" y2="0" stroke="#f0f0f0" stroke-opacity="0.45" stroke-width="1.2"/>
<line x1="241.0" y1="400" x2="653.0" y2="0" stroke="#181818" stroke-opacity="0.45" stroke-width="1.2"/>
<line x1="245.0" y1="400" x2="657.0" y2="0" stroke="#181818" stroke-opacity="0.35" stroke-width="1.2"/>
<line x1="343.5" y1="400" x2="755.5" y2="0" stroke="#f0f0f0" stroke-opacity="0.55" stroke-width="1.2"/>
<line x1="345.5" y1="400" x2="757.5" y2="0" stroke="#202020" stroke-opacity="0.35" stroke-width="1.2"/>
<line x1="347.5" y1="400" x2="759.5" y2="0" stroke="#f0f0f0" stroke-opacity="0.45" stroke-width="1.2"/>
<line x1="464.5" y1="400" x2="876.5" y2="0" stroke="#181818" stroke-opacity="0.45" stroke-width="1.2"/>
<line x1="468.5" y1="400" x2="880.5" y2="0" stroke="#181818" stroke-opacity="0.35" stroke-width="1.2"/>
<line x1="567.0" y1="400" x2="979.0" y2="0" stroke="#f0f0f0" stroke-opacity="0.55" stroke-width="1.2"/>
<line x1="569.0" y1="400" x2="981.0" y2="0" stroke="#202020" stroke-opacity="0.35" stroke-width="1.2"/>
<line x1="571.0" y1="400" x2="983.0" y2="0" stroke="#f0f0f0" stroke-opacity="0.45" stroke-width="1.2"/>
<line x1="688.0" y1="400" x2="1100.0" y2="0" stroke="#181818" stroke-opacity="0.45" stroke-width="1.2"/>
<line x1="692.0" y1="400" x2="1104.0" y2="0" stroke="#181818" stroke-opacity="0.35" stroke-width="1.2"/>
<line x1="790.5" y1="400" x2="1202.5" y2="0" stroke="#f0f0f0" stroke-opacity="0.55" stroke-width="1.2"/>
<line x1="792.5" y1="400" x2="1204.5" y2="0" stroke="#202020" stroke-opacity="0.35" stroke-width="1.2"/>
<line x1="794.5" y1="400" x2="1206.5" y2="0" stroke="#f0f0f0" stroke-opacity="0.45" stroke-width="1.2"/>
<line x1="911.5" y1="400" x2="1323.5" y2="0" stroke="#181818" stroke-opacity="0.45" stroke-width="1.2"/>
<line x1="915.5" y1="400" x2="1327.5" y2="0" stroke="#181818" stroke-opacity="0.35" stroke-width="1.2"/>
</g></g>
<rect x="2" y="377" width="564" height="28" fill="#000"/>
<g stroke="#3a3a3a" stroke-width="1">
<line x1="27.5" y1="378" x2="27.5" y2="404"/>
<line x1="102.5" y1="378" x2="102.5" y2="404"/>
<line x1="154.5" y1="378" x2="154.5" y2="404"/>
<line x1="199.5" y1="378" x2="199.5" y2="404"/>
<line x1="245.5" y1="378" x2="245.5" y2="404"/>
<line x1="286.5" y1="378" x2="286.5" y2="404"/>
<line x1="317.5" y1="378" x2="317.5" y2="404"/>
<line x1="318" y1="390.7" x2="565" y2="390.7"/>
</g>
<g font-family="Liberation Sans, sans-serif" font-size="10" fill="#e6e6e6" text-anchor="middle">
<text x="64.5" y="387.5">4/16/2013</text>
<text x="65" y="401.5">11:02:45 AM</text>
<text x="128.5" y="387.5" font-size="8.6" fill="#c4c4c4">HV</text>
<text x="128.5" y="401.5">10.00 kV</text>
<text x="177" y="387.5" font-size="8.6" fill="#c4c4c4">curr</text>
<text x="177" y="401.5">0.17 nA</text>
<text x="222.5" y="387.5" font-size="8.6" fill="#c4c4c4">WD</text>
<text x="222.5" y="401.5">4.1 mm</text>
<text x="259.5" y="387.5" font-size="8.6" fill="#c4c4c4">mag</text>
<text x="265.5" y="401.5">350 x</text>
<text x="301.5" y="387.5" font-size="8.6" fill="#c4c4c4">tilt</text>
<text x="301.5" y="401.5">10 °</text>
<text x="440.5" y="401.5">Institut FEMTO-ST</text>
<text x="441" y="386.5">100 µm</text>
</g>
<path d="M363 383h58M461 383h59M363 380.5v5M520 380.5v5" stroke="#e6e6e6" stroke-width="1.2"/>
<path d="M273.5 380.5h6v4h-6zM276.5 384.5v2.5M273 387.5l2-1.5M280 387.5l-2-1.5" fill="none" stroke="#c4c4c4" stroke-width="0.9"/>
<g transform="translate(14,391)" fill="none" stroke="#eee" stroke-width="1.1"><ellipse rx="8" ry="3" transform="rotate(90)"/><ellipse rx="8" ry="3" transform="rotate(30)"/><ellipse rx="8" ry="3" transform="rotate(-30)"/><circle r="1.5" fill="#eee"/><circle cx="-5.5" cy="-2.5" r="1.5" fill="#eee"/><circle cx="5" cy="2.5" r="1.5" fill="#eee"/></g>
</g>
<g transform="translate(0,403)">
<g clip-path="url(#semclip)">
<g>
<rect x="2" y="2" width="564" height="375" fill="url(#semband1)" filter="url(#semtex)"/>
<g transform="translate(284,190) rotate(-45)" opacity="0.3"><rect x="-360" y="-360" width="720" height="720" filter="url(#semfib)"/></g>
<rect x="2" y="2" width="564" height="375" filter="url(#semfib2)" opacity="0.45"/>
<rect x="2" y="2" width="564" height="375" filter="url(#semfib3)" opacity="0.3"/>
<use href="#fibs"/>
<use href="#spots"/>
<line x1="-550.0" y1="400" x2="-150.0" y2="0" stroke="#f0f0f0" stroke-opacity="0.55" stroke-width="1.2"/>
<line x1="-548.0" y1="400" x2="-148.0" y2="0" stroke="#202020" stroke-opacity="0.35" stroke-width="1.2"/>
<line x1="-546.0" y1="400" x2="-146.0" y2="0" stroke="#f0f0f0" stroke-opacity="0.45" stroke-width="1.2"/>
<line x1="-435.0" y1="400" x2="-35.0" y2="0" stroke="#181818" stroke-opacity="0.45" stroke-width="1.2"/>
<line x1="-431.0" y1="400" x2="-31.0" y2="0" stroke="#181818" stroke-opacity="0.35" stroke-width="1.2"/>
<line x1="-317.0" y1="400" x2="83.0" y2="0" stroke="#f0f0f0" stroke-opacity="0.275" stroke-width="1.2"/>
<line x1="-315.0" y1="400" x2="85.0" y2="0" stroke="#202020" stroke-opacity="0.175" stroke-width="1.2"/>
<line x1="-313.0" y1="400" x2="87.0" y2="0" stroke="#f0f0f0" stroke-opacity="0.225" stroke-width="1.2"/>
<line x1="-209.0" y1="400" x2="191.0" y2="0" stroke="#181818" stroke-opacity="0.45" stroke-width="1.2"/>
<line x1="-205.0" y1="400" x2="195.0" y2="0" stroke="#181818" stroke-opacity="0.35" stroke-width="1.2"/>
<line x1="-98.0" y1="400" x2="302.0" y2="0" stroke="#f0f0f0" stroke-opacity="0.55" stroke-width="1.2"/>
<line x1="-96.0" y1="400" x2="304.0" y2="0" stroke="#202020" stroke-opacity="0.35" stroke-width="1.2"/>
<line x1="-94.0" y1="400" x2="306.0" y2="0" stroke="#f0f0f0" stroke-opacity="0.45" stroke-width="1.2"/>
<line x1="17.0" y1="400" x2="417.0" y2="0" stroke="#181818" stroke-opacity="0.45" stroke-width="1.2"/>
<line x1="21.0" y1="400" x2="421.0" y2="0" stroke="#181818" stroke-opacity="0.35" stroke-width="1.2"/>
<line x1="128.0" y1="400" x2="528.0" y2="0" stroke="#f0f0f0" stroke-opacity="0.55" stroke-width="1.2"/>
<line x1="130.0" y1="400" x2="530.0" y2="0" stroke="#202020" stroke-opacity="0.35" stroke-width="1.2"/>
<line x1="132.0" y1="400" x2="532.0" y2="0" stroke="#f0f0f0" stroke-opacity="0.45" stroke-width="1.2"/>
<line x1="243.0" y1="400" x2="643.0" y2="0" stroke="#181818" stroke-opacity="0.45" stroke-width="1.2"/>
<line x1="247.0" y1="400" x2="647.0" y2="0" stroke="#181818" stroke-opacity="0.35" stroke-width="1.2"/>
<line x1="354.0" y1="400" x2="754.0" y2="0" stroke="#f0f0f0" stroke-opacity="0.55" stroke-width="1.2"/>
<line x1="356.0" y1="400" x2="756.0" y2="0" stroke="#202020" stroke-opacity="0.35" stroke-width="1.2"/>
<line x1="358.0" y1="400" x2="758.0" y2="0" stroke="#f0f0f0" stroke-opacity="0.45" stroke-width="1.2"/>
<line x1="469.0" y1="400" x2="869.0" y2="0" stroke="#181818" stroke-opacity="0.45" stroke-width="1.2"/>
<line x1="473.0" y1="400" x2="873.0" y2="0" stroke="#181818" stroke-opacity="0.35" stroke-width="1.2"/>
<line x1="580.0" y1="400" x2="980.0" y2="0" stroke="#f0f0f0" stroke-opacity="0.55" stroke-width="1.2"/>
<line x1="582.0" y1="400" x2="982.0" y2="0" stroke="#202020" stroke-opacity="0.35" stroke-width="1.2"/>
<line x1="584.0" y1="400" x2="984.0" y2="0" stroke="#f0f0f0" stroke-opacity="0.45" stroke-width="1.2"/>
<line x1="695.0" y1="400" x2="1095.0" y2="0" stroke="#181818" stroke-opacity="0.45" stroke-width="1.2"/>
<line x1="699.0" y1="400" x2="1099.0" y2="0" stroke="#181818" stroke-opacity="0.35" stroke-width="1.2"/>
<line x1="806.0" y1="400" x2="1206.0" y2="0" stroke="#f0f0f0" stroke-opacity="0.55" stroke-width="1.2"/>
<line x1="808.0" y1="400" x2="1208.0" y2="0" stroke="#202020" stroke-opacity="0.35" stroke-width="1.2"/>
<line x1="810.0" y1="400" x2="1210.0" y2="0" stroke="#f0f0f0" stroke-opacity="0.45" stroke-width="1.2"/>
<line x1="921.0" y1="400" x2="1321.0" y2="0" stroke="#181818" stroke-opacity="0.45" stroke-width="1.2"/>
<line x1="925.0" y1="400" x2="1325.0" y2="0" stroke="#181818" stroke-opacity="0.35" stroke-width="1.2"/>
</g></g>
<rect x="2" y="377" width="564" height="28" fill="#000"/>
<g stroke="#3a3a3a" stroke-width="1">
<line x1="27.5" y1="378" x2="27.5" y2="404"/>
<line x1="102.5" y1="378" x2="102.5" y2="404"/>
<line x1="154.5" y1="378" x2="154.5" y2="404"/>
<line x1="199.5" y1="378" x2="199.5" y2="404"/>
<line x1="245.5" y1="378" x2="245.5" y2="404"/>
<line x1="286.5" y1="378" x2="286.5" y2="404"/>
<line x1="317.5" y1="378" x2="317.5" y2="404"/>
<line x1="318" y1="390.7" x2="565" y2="390.7"/>
</g>
<g font-family="Liberation Sans, sans-serif" font-size="10" fill="#e6e6e6" text-anchor="middle">
<text x="64.5" y="387.5">4/16/2013</text>
<text x="65" y="401.5">10:59:19 AM</text>
<text x="128.5" y="387.5" font-size="8.6" fill="#c4c4c4">HV</text>
<text x="128.5" y="401.5">10.00 kV</text>
<text x="177" y="387.5" font-size="8.6" fill="#c4c4c4">curr</text>
<text x="177" y="401.5">0.17 nA</text>
<text x="222.5" y="387.5" font-size="8.6" fill="#c4c4c4">WD</text>
<text x="222.5" y="401.5">4.1 mm</text>
<text x="259.5" y="387.5" font-size="8.6" fill="#c4c4c4">mag</text>
<text x="265.5" y="401.5">350 x</text>
<text x="301.5" y="387.5" font-size="8.6" fill="#c4c4c4">tilt</text>
<text x="301.5" y="401.5">-5 °</text>
<text x="440.5" y="401.5">Institut FEMTO-ST</text>
<text x="441" y="386.5">100 µm</text>
</g>
<path d="M363 383h58M461 383h59M363 380.5v5M520 380.5v5" stroke="#e6e6e6" stroke-width="1.2"/>
<path d="M273.5 380.5h6v4h-6zM276.5 384.5v2.5M273 387.5l2-1.5M280 387.5l-2-1.5" fill="none" stroke="#c4c4c4" stroke-width="0.9"/>
<g transform="translate(14,391)" fill="none" stroke="#eee" stroke-width="1.1"><ellipse rx="8" ry="3" transform="rotate(90)"/><ellipse rx="8" ry="3" transform="rotate(30)"/><ellipse rx="8" ry="3" transform="rotate(-30)"/><circle r="1.5" fill="#eee"/><circle cx="-5.5" cy="-2.5" r="1.5" fill="#eee"/><circle cx="5" cy="2.5" r="1.5" fill="#eee"/></g>
</g>
<line x1="565.4" y1="2" x2="565.4" y2="808" stroke="#000" stroke-width="1.3"/>
<text transform="translate(21.8,55) scale(0.86,1)" font-family="Liberation Sans, sans-serif" font-size="41" fill="#fff">(a)</text>
<defs>
<linearGradient id="bwall" gradientUnits="userSpaceOnUse" x1="620" y1="170" x2="1184" y2="40"><stop offset="0" stop-color="#939393"/><stop offset="0.12" stop-color="#a2a2a2"/><stop offset="0.3" stop-color="#c0c0c0"/><stop offset="1" stop-color="#d0d0d0"/></linearGradient>
<linearGradient id="rwall" gradientUnits="userSpaceOnUse" x1="1190" y1="60" x2="1400" y2="200"><stop offset="0" stop-color="#b8b8b8"/><stop offset="0.6" stop-color="#ececec"/><stop offset="1" stop-color="#fafafa"/></linearGradient>
<linearGradient id="ffront" gradientUnits="userSpaceOnUse" x1="1041" y1="340.5" x2="1063" y2="407"><stop offset="0" stop-color="#c9c9c9"/><stop offset="1" stop-color="#a8a8a8"/></linearGradient>
<filter id="stex" x="0" y="0" width="1" height="1" color-interpolation-filters="sRGB">
<feTurbulence type="fractalNoise" baseFrequency="0.12" numOctaves="3" seed="2" result="n1"/>
<feColorMatrix in="n1" type="matrix" values="0.33 0.33 0.33 0 0 0.33 0.33 0.33 0 0 0.33 0.33 0.33 0 0 0 0 0 0 1" result="g1"/>
<feTurbulence type="fractalNoise" baseFrequency="0.18 0.035" numOctaves="2" seed="5" result="n3"/>
<feColorMatrix in="n3" type="matrix" values="0.33 0.33 0.33 0 0 0.33 0.33 0.33 0 0 0.33 0.33 0.33 0 0 0 0 0 0 1" result="g3"/>
<feFlood flood-color="#c4c4c4" result="fl"/>
<feMerge result="op"><feMergeNode in="fl"/><feMergeNode in="SourceGraphic"/></feMerge>
<feComposite in="op" in2="g1" operator="arithmetic" k1="0" k2="1" k3="0.9" k4="-0.45" result="a0"/>
<feComposite in="a0" in2="g3" operator="arithmetic" k1="0" k2="1" k3="1.1" k4="-0.55" result="a"/>
<feTurbulence type="fractalNoise" baseFrequency="0.22 0.14" numOctaves="2" seed="8" result="n2"/>
<feColorMatrix in="n2" type="matrix" values="0 0 0 0 1 0 0 0 0 1 0 0 0 0 1 2.6 0 0 0 -1.55" result="sp"/>
<feMerge result="m"><feMergeNode in="a"/><feMergeNode in="sp"/></feMerge>
<feComposite in="m" in2="SourceAlpha" operator="in"/>
</filter>
</defs>
<polygon points="635.4,215.8 1177.6,74.3 1184.3,5.4 620.7,143.7" fill="url(#bwall)"/>
<polygon points="1177.6,74.3 1381.0,301.3 1398.0,228.2 1184.3,5.4" fill="url(#rwall)"/>
<path d="M718.1 194.2L707.0 122.6M798.0 173.4L790.3 102.1M875.2 153.2L870.7 82.4M950.0 133.7L948.3 63.3M1022.3 114.8L1023.4 44.9M1092.4 96.5L1096.1 27.1M1160.3 78.8L1166.4 9.8M1215.2 116.3L1223.6 46.4M1255.7 161.4L1266.0 90.6M1299.4 210.2L1311.9 138.4M1346.6 262.9L1361.6 190.3" stroke="#505050" stroke-width="1.1" fill="none"/>
<path d="M631.1 194.5L1179.6 53.8L1386.0 279.7M626.6 172.6L1181.6 32.9L1391.2 257.5M622.0 150.1L1183.7 11.5L1396.5 234.7" stroke="#e8e8e8" stroke-opacity="0.35" stroke-width="1" fill="none"/>
<g filter="url(#stex)">
<polygon points="632.7,202.5 632.7,202.5 635.7,199.9 633.1,202.9" fill="#6c2650" stroke="#6c2650" stroke-width="0.6"/>
<polygon points="633.1,202.9 635.7,199.9 638.8,197.2 633.5,203.1" fill="#762340" stroke="#762340" stroke-width="0.6"/>
<polygon points="633.5,203.1 638.8,197.2 641.8,194.3 633.9,203.1" fill="#7e2233" stroke="#7e2233" stroke-width="0.6"/>
<polygon points="633.9,203.1 641.8,194.3 644.7,191.3 634.3,203.0" fill="#82232f" stroke="#82232f" stroke-width="0.6"/>
<polygon points="634.3,203.0 644.7,191.3 647.7,188.1 634.6,202.8" fill="#85242a" stroke="#85242a" stroke-width="0.6"/>
<polygon points="634.6,202.8 647.7,188.1 650.6,184.8 634.9,202.4" fill="#892426" stroke="#892426" stroke-width="0.6"/>
<polygon points="634.9,202.4 650.6,184.8 653.5,181.3 635.1,201.8" fill="#8c2522" stroke="#8c2522" stroke-width="0.6"/>
<polygon points="635.1,201.8 653.5,181.3 656.3,177.5 635.3,201.0" fill="#90261e" stroke="#90261e" stroke-width="0.6"/>
<polygon points="635.3,201.0 656.3,177.5 659.0,173.1 635.4,199.4" fill="#932c1d" stroke="#932c1d" stroke-width="0.6"/>
<polygon points="635.4,199.4 659.0,173.1 661.9,169.2 635.6,198.5" fill="#963720" stroke="#963720" stroke-width="0.6"/>
<polygon points="635.6,198.5 661.9,169.2 664.8,165.6 635.9,197.9" fill="#994222" stroke="#994222" stroke-width="0.6"/>
<polygon points="635.9,197.9 664.8,165.6 667.7,162.2 636.2,197.4" fill="#9c4d25" stroke="#9c4d25" stroke-width="0.6"/>
<polygon points="636.2,197.4 667.7,162.2 670.7,159.0 636.5,197.1" fill="#9f5827" stroke="#9f5827" stroke-width="0.6"/>
<polygon points="636.5,197.1 670.7,159.0 673.7,155.9 636.8,197.0" fill="#a2632c" stroke="#a2632c" stroke-width="0.6"/>
<polygon points="636.8,197.0 673.7,155.9 676.7,152.9 637.2,196.9" fill="#a66f33" stroke="#a66f33" stroke-width="0.6"/>
<polygon points="637.2,196.9 676.7,152.9 679.7,150.1 637.7,197.1" fill="#a97b39" stroke="#a97b39" stroke-width="0.6"/>
<polygon points="637.7,197.1 679.7,150.1 682.8,147.4 638.1,197.4" fill="#ad8740" stroke="#ad8740" stroke-width="0.6"/>
<polygon points="638.1,197.4 682.8,147.4 685.9,144.9 638.6,197.8" fill="#b09346" stroke="#b09346" stroke-width="0.6"/>
<polygon points="638.6,197.8 685.9,144.9 689.1,142.5 639.1,198.5" fill="#b49e4d" stroke="#b49e4d" stroke-width="0.6"/>
<polygon points="639.1,198.5 689.1,142.5 692.2,140.4 639.7,199.3" fill="#b5a350" stroke="#b5a350" stroke-width="0.6"/>
<polygon points="639.7,199.3 692.2,140.4 695.4,138.4 640.3,200.3" fill="#b7a653" stroke="#b7a653" stroke-width="0.6"/>
<polygon points="640.3,200.3 695.4,138.4 698.7,136.6 640.9,201.4" fill="#b8a955" stroke="#b8a955" stroke-width="0.6"/>
<polygon points="640.9,201.4 698.7,136.6 701.9,134.9 641.6,202.8" fill="#baad58" stroke="#baad58" stroke-width="0.6"/>
<polygon points="641.6,202.8 701.9,134.9 705.2,133.5 642.4,204.4" fill="#bbb05a" stroke="#bbb05a" stroke-width="0.6"/>
<polygon points="642.4,204.4 705.2,133.5 708.5,132.3 643.1,206.2" fill="#bdb35d" stroke="#bdb35d" stroke-width="0.6"/>
<polygon points="643.1,206.2 708.5,132.3 711.9,131.3 643.9,208.2" fill="#beb75f" stroke="#beb75f" stroke-width="0.6"/>
<polygon points="643.9,208.2 711.9,131.3 715.2,130.4 644.8,210.4" fill="#c0ba62" stroke="#c0ba62" stroke-width="0.6"/>
<polygon points="644.8,210.4 715.2,130.4 718.6,129.8 645.7,212.8" fill="#c0b860" stroke="#c0b860" stroke-width="0.6"/>
<polygon points="645.7,212.8 718.6,129.8 722.0,129.4 646.6,215.5" fill="#c1b55f" stroke="#c1b55f" stroke-width="0.6"/>
<polygon points="646.6,215.5 722.0,129.4 725.5,129.1 647.6,218.3" fill="#c1b35d" stroke="#c1b35d" stroke-width="0.6"/>
<polygon points="647.6,218.3 725.5,129.1 728.9,129.1 648.6,221.3" fill="#c1b05b" stroke="#c1b05b" stroke-width="0.6"/>
<polygon points="648.6,221.3 728.9,129.1 732.4,129.2 649.7,224.6" fill="#c2ae59" stroke="#c2ae59" stroke-width="0.6"/>
<polygon points="649.7,224.6 732.4,129.2 735.9,129.5 650.8,228.0" fill="#c2aa57" stroke="#c2aa57" stroke-width="0.6"/>
<polygon points="650.8,228.0 735.9,129.5 739.4,130.0 651.9,231.6" fill="#c1a355" stroke="#c1a355" stroke-width="0.6"/>
<polygon points="651.9,231.6 739.4,130.0 742.9,130.7 653.1,235.4" fill="#c09c53" stroke="#c09c53" stroke-width="0.6"/>
<polygon points="653.1,235.4 742.9,130.7 746.4,131.5 654.3,239.4" fill="#bf9450" stroke="#bf9450" stroke-width="0.6"/>
<polygon points="654.3,239.4 746.4,131.5 750.0,132.5 655.6,243.6" fill="#bf8d4e" stroke="#bf8d4e" stroke-width="0.6"/>
<polygon points="655.6,243.6 750.0,132.5 753.5,133.7 656.9,247.9" fill="#be864c" stroke="#be864c" stroke-width="0.6"/>
<polygon points="656.9,247.9 753.5,133.7 757.1,135.0 658.2,252.4" fill="#bc7f4a" stroke="#bc7f4a" stroke-width="0.6"/>
<polygon points="658.2,252.4 757.1,135.0 760.6,136.4 659.5,257.0" fill="#bb7949" stroke="#bb7949" stroke-width="0.6"/>
<polygon points="659.5,257.0 760.6,136.4 764.2,137.9 660.9,261.7" fill="#ba7248" stroke="#ba7248" stroke-width="0.6"/>
<polygon points="660.9,261.7 764.2,137.9 767.8,139.6 662.3,266.7" fill="#b96b47" stroke="#b96b47" stroke-width="0.6"/>
<polygon points="662.3,266.7 767.8,139.6 771.3,141.5 663.7,271.8" fill="#b76446" stroke="#b76446" stroke-width="0.6"/>
<polygon points="663.7,271.8 771.3,141.5 774.9,143.7 665.2,277.2" fill="#b45f48" stroke="#b45f48" stroke-width="0.6"/>
<polygon points="665.2,277.2 774.9,143.7 778.6,146.5 666.8,283.3" fill="#b15949" stroke="#b15949" stroke-width="0.6"/>
<polygon points="666.8,283.3 778.6,146.5 782.1,148.5 668.3,288.6" fill="#ae544a" stroke="#ae544a" stroke-width="0.6"/>
<polygon points="668.3,288.6 782.1,148.5 785.6,150.3 669.7,293.7" fill="#aa4e4b" stroke="#aa4e4b" stroke-width="0.6"/>
<polygon points="669.7,293.7 785.6,150.3 789.1,151.9 671.1,298.6" fill="#a6494d" stroke="#a6494d" stroke-width="0.6"/>
<polygon points="671.1,298.6 789.1,151.9 792.5,153.4 672.5,303.3" fill="#a04653" stroke="#a04653" stroke-width="0.6"/>
<polygon points="672.5,303.3 792.5,153.4 796.0,154.7 673.8,307.9" fill="#994359" stroke="#994359" stroke-width="0.6"/>
<polygon points="673.8,307.9 796.0,154.7 799.3,155.9 675.1,312.4" fill="#933f5e" stroke="#933f5e" stroke-width="0.6"/>
<polygon points="675.1,312.4 799.3,155.9 802.7,156.9 676.4,316.7" fill="#8c3c64" stroke="#8c3c64" stroke-width="0.6"/>
<polygon points="676.4,316.7 802.7,156.9 806.0,157.8 677.7,320.9" fill="#843b6c" stroke="#843b6c" stroke-width="0.6"/>
<polygon points="677.7,320.9 806.0,157.8 809.3,158.5 678.9,324.9" fill="#7c3a74" stroke="#7c3a74" stroke-width="0.6"/>
<polygon points="678.9,324.9 809.3,158.5 812.6,159.1 680.1,328.8" fill="#74397c" stroke="#74397c" stroke-width="0.6"/>
<polygon points="680.1,328.8 812.6,159.1 815.9,159.5 681.3,332.5" fill="#6c3884" stroke="#6c3884" stroke-width="0.6"/>
<polygon points="681.3,332.5 815.9,159.5 819.1,159.7 682.4,336.1" fill="#663788" stroke="#663788" stroke-width="0.6"/>
<polygon points="682.4,336.1 819.1,159.7 822.3,159.8 683.5,339.5" fill="#60368b" stroke="#60368b" stroke-width="0.6"/>
<polygon points="683.5,339.5 822.3,159.8 825.5,159.6 684.6,342.7" fill="#5a358e" stroke="#5a358e" stroke-width="0.6"/>
<polygon points="684.6,342.7 825.5,159.6 828.7,159.3 685.7,345.7" fill="#543590" stroke="#543590" stroke-width="0.6"/>
<polygon points="685.7,345.7 828.7,159.3 831.8,158.8 686.7,348.5" fill="#4f3492" stroke="#4f3492" stroke-width="0.6"/>
<polygon points="686.7,348.5 831.8,158.8 834.9,158.2 687.7,351.2" fill="#4c3391" stroke="#4c3391" stroke-width="0.6"/>
<polygon points="687.7,351.2 834.9,158.2 838.0,157.3 688.6,353.7" fill="#493290" stroke="#493290" stroke-width="0.6"/>
<polygon points="688.6,353.7 838.0,157.3 841.1,156.3 689.5,356.0" fill="#47318f" stroke="#47318f" stroke-width="0.6"/>
<polygon points="689.5,356.0 841.1,156.3 844.1,155.1 690.4,358.1" fill="#44308e" stroke="#44308e" stroke-width="0.6"/>
<polygon points="690.4,358.1 844.1,155.1 847.2,153.7 691.3,360.0" fill="#452f8c" stroke="#452f8c" stroke-width="0.6"/>
<polygon points="691.3,360.0 847.2,153.7 850.2,152.1 692.1,361.8" fill="#462f89" stroke="#462f89" stroke-width="0.6"/>
<polygon points="692.1,361.8 850.2,152.1 853.2,150.3 692.9,363.3" fill="#472e87" stroke="#472e87" stroke-width="0.6"/>
<polygon points="692.9,363.3 853.2,150.3 856.2,148.4 693.6,364.8" fill="#4c2d80" stroke="#4c2d80" stroke-width="0.6"/>
<polygon points="693.6,364.8 856.2,148.4 859.2,146.3 694.4,366.0" fill="#552b74" stroke="#552b74" stroke-width="0.6"/>
<polygon points="694.4,366.0 859.2,146.3 862.2,144.1 695.1,367.1" fill="#5d2968" stroke="#5d2968" stroke-width="0.6"/>
<polygon points="695.1,367.1 862.2,144.1 865.1,141.7 695.7,368.0" fill="#672759" stroke="#672759" stroke-width="0.6"/>
<polygon points="695.7,368.0 865.1,141.7 868.1,139.1 696.4,368.8" fill="#712448" stroke="#712448" stroke-width="0.6"/>
<polygon points="696.4,368.8 868.1,139.1 871.0,136.4 697.0,369.4" fill="#7b2237" stroke="#7b2237" stroke-width="0.6"/>
<polygon points="697.0,369.4 871.0,136.4 874.0,133.6 697.6,369.9" fill="#802331" stroke="#802331" stroke-width="0.6"/>
<polygon points="697.6,369.9 874.0,133.6 876.9,130.6 698.2,370.3" fill="#83232c" stroke="#83232c" stroke-width="0.6"/>
<polygon points="698.2,370.3 876.9,130.6 879.8,127.5 698.8,370.5" fill="#872428" stroke="#872428" stroke-width="0.6"/>
<polygon points="698.8,370.5 879.8,127.5 882.8,124.2 699.3,370.5" fill="#8a2524" stroke="#8a2524" stroke-width="0.6"/>
<polygon points="699.3,370.5 882.8,124.2 885.7,120.7 699.8,370.4" fill="#8e2520" stroke="#8e2520" stroke-width="0.6"/>
<polygon points="699.8,370.4 885.7,120.7 888.6,116.8 700.3,369.8" fill="#91271c" stroke="#91271c" stroke-width="0.6"/>
<polygon points="700.3,369.8 888.6,116.8 891.4,112.6 700.6,368.9" fill="#94321f" stroke="#94321f" stroke-width="0.6"/>
<polygon points="700.6,368.9 891.4,112.6 894.4,109.0 701.1,368.6" fill="#973d21" stroke="#973d21" stroke-width="0.6"/>
<polygon points="701.1,368.6 894.4,109.0 897.3,105.7 701.7,368.6" fill="#9a4723" stroke="#9a4723" stroke-width="0.6"/>
<polygon points="701.7,368.6 897.3,105.7 900.3,102.5 702.3,368.8" fill="#9d5226" stroke="#9d5226" stroke-width="0.6"/>
<polygon points="702.3,368.8 900.3,102.5 903.2,99.4 702.9,369.1" fill="#a05d29" stroke="#a05d29" stroke-width="0.6"/>
<polygon points="702.9,369.1 903.2,99.4 906.2,96.5 703.5,369.6" fill="#a4692f" stroke="#a4692f" stroke-width="0.6"/>
<polygon points="703.5,369.6 906.2,96.5 909.2,93.7 704.2,370.2" fill="#a77536" stroke="#a77536" stroke-width="0.6"/>
<polygon points="704.2,370.2 909.2,93.7 912.2,91.1 704.9,371.0" fill="#ab813c" stroke="#ab813c" stroke-width="0.6"/>
<polygon points="704.9,371.0 912.2,91.1 915.2,88.6 705.7,372.0" fill="#ae8d43" stroke="#ae8d43" stroke-width="0.6"/>
<polygon points="705.7,372.0 915.2,88.6 918.2,86.3 706.4,373.1" fill="#b2984a" stroke="#b2984a" stroke-width="0.6"/>
<polygon points="706.4,373.1 918.2,86.3 921.2,84.1 707.2,374.4" fill="#b5a14f" stroke="#b5a14f" stroke-width="0.6"/>
<polygon points="707.2,374.4 921.2,84.1 924.2,82.1 708.1,375.9" fill="#b6a551" stroke="#b6a551" stroke-width="0.6"/>
<polygon points="708.1,375.9 924.2,82.1 927.3,80.3 709.0,377.6" fill="#b8a854" stroke="#b8a854" stroke-width="0.6"/>
<polygon points="709.0,377.6 927.3,80.3 930.3,78.7 709.9,379.5" fill="#b9ab57" stroke="#b9ab57" stroke-width="0.6"/>
<polygon points="709.9,379.5 930.3,78.7 933.3,77.3 710.9,381.7" fill="#bbae59" stroke="#bbae59" stroke-width="0.6"/>
<polygon points="710.9,381.7 933.3,77.3 936.4,76.0 711.9,384.0" fill="#bcb25c" stroke="#bcb25c" stroke-width="0.6"/>
<polygon points="711.9,384.0 936.4,76.0 939.4,75.0 712.9,386.5" fill="#beb55e" stroke="#beb55e" stroke-width="0.6"/>
<polygon points="712.9,386.5 939.4,75.0 942.5,74.1 714.0,389.3" fill="#bfb861" stroke="#bfb861" stroke-width="0.6"/>
<polygon points="714.0,389.3 942.5,74.1 945.5,73.5 715.2,392.3" fill="#c0b961" stroke="#c0b961" stroke-width="0.6"/>
<polygon points="715.2,392.3 945.5,73.5 948.6,73.0 716.3,395.5" fill="#c1b65f" stroke="#c1b65f" stroke-width="0.6"/>
<polygon points="716.3,395.5 948.6,73.0 951.6,72.8 717.5,398.9" fill="#c1b45e" stroke="#c1b45e" stroke-width="0.6"/>
<polygon points="717.5,398.9 951.6,72.8 954.7,72.7 718.8,402.5" fill="#c1b15c" stroke="#c1b15c" stroke-width="0.6"/>
<polygon points="718.8,402.5 954.7,72.7 957.7,72.8 720.1,406.4" fill="#c2af5a" stroke="#c2af5a" stroke-width="0.6"/>
<polygon points="720.1,406.4 957.7,72.8 960.7,73.1 721.4,410.4" fill="#c2ad58" stroke="#c2ad58" stroke-width="0.6"/>
<polygon points="721.4,410.4 960.7,73.1 963.8,73.5 722.8,414.6" fill="#c1a656" stroke="#c1a656" stroke-width="0.6"/>
<polygon points="722.8,414.6 963.8,73.5 966.8,74.2 724.2,419.1" fill="#c19f54" stroke="#c19f54" stroke-width="0.6"/>
<polygon points="724.2,419.1 966.8,74.2 969.8,75.0 725.6,423.7" fill="#c09851" stroke="#c09851" stroke-width="0.6"/>
<polygon points="725.6,423.7 969.8,75.0 972.8,75.9 727.1,428.5" fill="#bf914f" stroke="#bf914f" stroke-width="0.6"/>
<polygon points="727.1,428.5 972.8,75.9 975.9,77.1 728.6,433.5" fill="#be8a4d" stroke="#be8a4d" stroke-width="0.6"/>
<polygon points="728.6,433.5 975.9,77.1 978.9,78.3 730.1,438.6" fill="#bd834b" stroke="#bd834b" stroke-width="0.6"/>
<polygon points="730.1,438.6 978.9,78.3 981.8,79.7 731.6,443.9" fill="#bc7c4a" stroke="#bc7c4a" stroke-width="0.6"/>
<polygon points="731.6,443.9 981.8,79.7 984.8,81.2 733.2,449.3" fill="#bb7549" stroke="#bb7549" stroke-width="0.6"/>
<polygon points="733.2,449.3 984.8,81.2 987.8,82.9 734.8,454.9" fill="#b96e47" stroke="#b96e47" stroke-width="0.6"/>
<polygon points="734.8,454.9 987.8,82.9 990.7,84.7 736.4,460.7" fill="#b86846" stroke="#b86846" stroke-width="0.6"/>
<polygon points="736.4,460.7 990.7,84.7 993.7,86.7 738.1,466.7" fill="#b66247" stroke="#b66247" stroke-width="0.6"/>
<polygon points="738.1,466.7 993.7,86.7 996.6,89.4 739.9,473.4" fill="#b25c48" stroke="#b25c48" stroke-width="0.6"/>
<polygon points="739.9,473.4 996.6,89.4 999.5,91.7 741.6,479.7" fill="#af5749" stroke="#af5749" stroke-width="0.6"/>
<polygon points="741.6,479.7 999.5,91.7 1002.4,93.6 746.2,481.2" fill="#ac514b" stroke="#ac514b" stroke-width="0.6"/>
<polygon points="746.2,481.2 1002.4,93.6 1005.3,95.4 750.8,482.5" fill="#a94b4c" stroke="#a94b4c" stroke-width="0.6"/>
<polygon points="750.8,482.5 1005.3,95.4 1008.2,96.9 755.2,483.6" fill="#a34850" stroke="#a34850" stroke-width="0.6"/>
<polygon points="755.2,483.6 1008.2,96.9 1011.1,98.4 759.7,484.6" fill="#9c4456" stroke="#9c4456" stroke-width="0.6"/>
<polygon points="759.7,484.6 1011.1,98.4 1014.0,99.7 764.1,485.4" fill="#96415b" stroke="#96415b" stroke-width="0.6"/>
<polygon points="764.1,485.4 1014.0,99.7 1016.8,100.8 768.4,486.1" fill="#8f3e61" stroke="#8f3e61" stroke-width="0.6"/>
<polygon points="768.4,486.1 1016.8,100.8 1019.7,101.8 772.7,486.6" fill="#883c68" stroke="#883c68" stroke-width="0.6"/>
<polygon points="772.7,486.6 1019.7,101.8 1022.5,102.6 777.0,487.0" fill="#803b70" stroke="#803b70" stroke-width="0.6"/>
<polygon points="777.0,487.0 1022.5,102.6 1025.4,103.3 781.2,487.2" fill="#783a78" stroke="#783a78" stroke-width="0.6"/>
<polygon points="781.2,487.2 1025.4,103.3 1028.2,103.9 785.4,487.2" fill="#703980" stroke="#703980" stroke-width="0.6"/>
<polygon points="785.4,487.2 1028.2,103.9 1031.0,104.2 789.6,487.1" fill="#693887" stroke="#693887" stroke-width="0.6"/>
<polygon points="789.6,487.1 1031.0,104.2 1033.9,104.4 793.7,486.8" fill="#633789" stroke="#633789" stroke-width="0.6"/>
<polygon points="793.7,486.8 1033.9,104.4 1036.7,104.5 797.8,486.3" fill="#5d368c" stroke="#5d368c" stroke-width="0.6"/>
<polygon points="797.8,486.3 1036.7,104.5 1039.5,104.3 801.8,485.6" fill="#57358f" stroke="#57358f" stroke-width="0.6"/>
<polygon points="801.8,485.6 1039.5,104.3 1042.3,104.0 805.8,484.7" fill="#513492" stroke="#513492" stroke-width="0.6"/>
<polygon points="805.8,484.7 1042.3,104.0 1045.1,103.5 809.8,483.7" fill="#4d3391" stroke="#4d3391" stroke-width="0.6"/>
<polygon points="809.8,483.7 1045.1,103.5 1048.0,102.8 813.7,482.4" fill="#4b3290" stroke="#4b3290" stroke-width="0.6"/>
<polygon points="813.7,482.4 1048.0,102.8 1050.8,101.9 817.7,481.0" fill="#48318f" stroke="#48318f" stroke-width="0.6"/>
<polygon points="817.7,481.0 1050.8,101.9 1053.6,100.9 821.5,479.4" fill="#45308e" stroke="#45308e" stroke-width="0.6"/>
<polygon points="821.5,479.4 1053.6,100.9 1056.5,99.6 825.4,477.6" fill="#45308d" stroke="#45308d" stroke-width="0.6"/>
<polygon points="825.4,477.6 1056.5,99.6 1059.3,98.2 829.2,475.6" fill="#462f8a" stroke="#462f8a" stroke-width="0.6"/>
<polygon points="829.2,475.6 1059.3,98.2 1062.1,96.7 833.1,473.4" fill="#472f88" stroke="#472f88" stroke-width="0.6"/>
<polygon points="833.1,473.4 1062.1,96.7 1065.0,94.9 836.9,471.0" fill="#482e86" stroke="#482e86" stroke-width="0.6"/>
<polygon points="836.9,471.0 1065.0,94.9 1067.8,93.0 840.6,468.5" fill="#512c7a" stroke="#512c7a" stroke-width="0.6"/>
<polygon points="840.6,468.5 1067.8,93.0 1070.7,90.9 844.4,465.8" fill="#592a6e" stroke="#592a6e" stroke-width="0.6"/>
<polygon points="844.4,465.8 1070.7,90.9 1073.6,88.7 848.1,462.9" fill="#622861" stroke="#622861" stroke-width="0.6"/>
<polygon points="848.1,462.9 1073.6,88.7 1076.4,86.3 851.9,459.9" fill="#6c2650" stroke="#6c2650" stroke-width="0.6"/>
<polygon points="851.9,459.9 1076.4,86.3 1079.3,83.8 855.6,456.7" fill="#762340" stroke="#762340" stroke-width="0.6"/>
<polygon points="855.6,456.7 1079.3,83.8 1082.2,81.1 859.3,453.3" fill="#7e2233" stroke="#7e2233" stroke-width="0.6"/>
<polygon points="859.3,453.3 1082.2,81.1 1085.1,78.3 863.0,449.9" fill="#82232f" stroke="#82232f" stroke-width="0.6"/>
<polygon points="863.0,449.9 1085.1,78.3 1088.0,75.4 866.7,446.2" fill="#85242a" stroke="#85242a" stroke-width="0.6"/>
<polygon points="866.7,446.2 1088.0,75.4 1090.9,72.3 870.4,442.4" fill="#892426" stroke="#892426" stroke-width="0.6"/>
<polygon points="870.4,442.4 1090.9,72.3 1093.9,69.0 874.1,438.5" fill="#8c2522" stroke="#8c2522" stroke-width="0.6"/>
<polygon points="874.1,438.5 1093.9,69.0 1096.8,65.5 877.7,434.2" fill="#90261e" stroke="#90261e" stroke-width="0.6"/>
<polygon points="877.7,434.2 1096.8,65.5 1099.8,61.3 881.4,429.2" fill="#932c1d" stroke="#932c1d" stroke-width="0.6"/>
<polygon points="881.4,429.2 1099.8,61.3 1102.8,57.7 885.0,424.9" fill="#963720" stroke="#963720" stroke-width="0.6"/>
<polygon points="885.0,424.9 1102.8,57.7 1105.7,54.4 888.8,420.8" fill="#994222" stroke="#994222" stroke-width="0.6"/>
<polygon points="888.8,420.8 1105.7,54.4 1108.7,51.2 892.5,416.9" fill="#9c4d25" stroke="#9c4d25" stroke-width="0.6"/>
<polygon points="892.5,416.9 1108.7,51.2 1111.6,48.2 896.2,413.2" fill="#9f5827" stroke="#9f5827" stroke-width="0.6"/>
<polygon points="896.2,413.2 1111.6,48.2 1114.5,45.3 900.0,409.6" fill="#a2632c" stroke="#a2632c" stroke-width="0.6"/>
<polygon points="900.0,409.6 1114.5,45.3 1117.5,42.6 903.8,406.2" fill="#a66f33" stroke="#a66f33" stroke-width="0.6"/>
<polygon points="903.8,406.2 1117.5,42.6 1120.4,40.0 907.5,402.9" fill="#a97b39" stroke="#a97b39" stroke-width="0.6"/>
<polygon points="907.5,402.9 1120.4,40.0 1123.3,37.5 911.3,399.8" fill="#ad8740" stroke="#ad8740" stroke-width="0.6"/>
<polygon points="911.3,399.8 1123.3,37.5 1126.2,35.2 915.1,396.8" fill="#b09346" stroke="#b09346" stroke-width="0.6"/>
<polygon points="915.1,396.8 1126.2,35.2 1129.1,33.1 919.0,394.0" fill="#b49e4d" stroke="#b49e4d" stroke-width="0.6"/>
<polygon points="919.0,394.0 1129.1,33.1 1132.0,31.1 922.8,391.4" fill="#b5a350" stroke="#b5a350" stroke-width="0.6"/>
<polygon points="922.8,391.4 1132.0,31.1 1134.9,29.3 926.6,389.0" fill="#b7a653" stroke="#b7a653" stroke-width="0.6"/>
<polygon points="926.6,389.0 1134.9,29.3 1137.7,27.7 930.5,386.7" fill="#b8a955" stroke="#b8a955" stroke-width="0.6"/>
<polygon points="930.5,386.7 1137.7,27.7 1140.6,26.3 934.3,384.7" fill="#baad58" stroke="#baad58" stroke-width="0.6"/>
<polygon points="934.3,384.7 1140.6,26.3 1143.4,25.0 938.2,382.8" fill="#bbb05a" stroke="#bbb05a" stroke-width="0.6"/>
<polygon points="938.2,382.8 1143.4,25.0 1146.2,23.9 942.0,381.2" fill="#bdb35d" stroke="#bdb35d" stroke-width="0.6"/>
<polygon points="942.0,381.2 1146.2,23.9 1149.0,23.0 945.9,379.8" fill="#beb75f" stroke="#beb75f" stroke-width="0.6"/>
<polygon points="945.9,379.8 1149.0,23.0 1151.8,22.4 949.7,378.6" fill="#c0ba62" stroke="#c0ba62" stroke-width="0.6"/>
<polygon points="949.7,378.6 1151.8,22.4 1154.5,21.9 953.6,377.6" fill="#c0b860" stroke="#c0b860" stroke-width="0.6"/>
<polygon points="953.6,377.6 1154.5,21.9 1157.3,21.6 957.4,376.8" fill="#c1b55f" stroke="#c1b55f" stroke-width="0.6"/>
<polygon points="957.4,376.8 1157.3,21.6 1160.0,21.4 961.3,376.2" fill="#c1b35d" stroke="#c1b35d" stroke-width="0.6"/>
<polygon points="961.3,376.2 1160.0,21.4 1162.7,21.5 965.1,375.8" fill="#c1b05b" stroke="#c1b05b" stroke-width="0.6"/>
<polygon points="965.1,375.8 1162.7,21.5 1165.3,21.8 968.9,375.6" fill="#c2ae59" stroke="#c2ae59" stroke-width="0.6"/>
<polygon points="968.9,375.6 1165.3,21.8 1168.0,22.2 972.8,375.6" fill="#c2aa57" stroke="#c2aa57" stroke-width="0.6"/>
<polygon points="972.8,375.6 1168.0,22.2 1170.6,22.8 976.6,375.8" fill="#c1a355" stroke="#c1a355" stroke-width="0.6"/>
<polygon points="976.6,375.8 1170.6,22.8 1173.2,23.5 980.4,376.1" fill="#c09c53" stroke="#c09c53" stroke-width="0.6"/>
<polygon points="980.4,376.1 1173.2,23.5 1175.8,24.5 984.2,376.7" fill="#bf9450" stroke="#bf9450" stroke-width="0.6"/>
<polygon points="984.2,376.7 1175.8,24.5 1178.4,25.5 987.9,377.4" fill="#bf8d4e" stroke="#bf8d4e" stroke-width="0.6"/>
<polygon points="987.9,377.4 1178.4,25.5 1180.9,26.7 991.7,378.2" fill="#be864c" stroke="#be864c" stroke-width="0.6"/>
<polygon points="991.7,378.2 1180.9,26.7 1182.2,27.4 1182.8,29.2 995.4,379.2" fill="#bc7f4a" stroke="#bc7f4a" stroke-width="0.6"/>
<polygon points="995.4,379.2 1182.8,29.2 1184.1,33.0 999.2,380.3" fill="#bb7949" stroke="#bb7949" stroke-width="0.6"/>
<polygon points="999.2,380.3 1184.1,33.0 1185.4,36.9 1002.9,381.6" fill="#ba7248" stroke="#ba7248" stroke-width="0.6"/>
<polygon points="1002.9,381.6 1185.4,36.9 1186.6,40.9 1006.6,383.1" fill="#b96b47" stroke="#b96b47" stroke-width="0.6"/>
<polygon points="1006.6,383.1 1186.6,40.9 1187.9,45.1 1010.2,384.7" fill="#b76446" stroke="#b76446" stroke-width="0.6"/>
<polygon points="1010.2,384.7 1187.9,45.1 1189.1,49.6 1013.9,386.6" fill="#b45f48" stroke="#b45f48" stroke-width="0.6"/>
<polygon points="1013.9,386.6 1189.1,49.6 1190.2,54.8 1017.5,389.2" fill="#b15949" stroke="#b15949" stroke-width="0.6"/>
<polygon points="1017.5,389.2 1190.2,54.8 1191.4,59.2 1021.1,391.0" fill="#ae544a" stroke="#ae544a" stroke-width="0.6"/>
<polygon points="1021.1,391.0 1191.4,59.2 1192.7,63.3 1024.7,392.5" fill="#aa4e4b" stroke="#aa4e4b" stroke-width="0.6"/>
<polygon points="1024.7,392.5 1192.7,63.3 1194.0,67.4 1028.3,393.8" fill="#a6494d" stroke="#a6494d" stroke-width="0.6"/>
<polygon points="1028.3,393.8 1194.0,67.4 1195.2,71.2 1031.8,395.0" fill="#a04653" stroke="#a04653" stroke-width="0.6"/>
<polygon points="1031.8,395.0 1195.2,71.2 1196.5,75.0 1035.4,396.1" fill="#994359" stroke="#994359" stroke-width="0.6"/>
<polygon points="1035.4,396.1 1196.5,75.0 1197.8,78.6 1038.9,397.0" fill="#933f5e" stroke="#933f5e" stroke-width="0.6"/>
<polygon points="1038.9,397.0 1197.8,78.6 1199.2,82.1 1042.4,397.7" fill="#8c3c64" stroke="#8c3c64" stroke-width="0.6"/>
<polygon points="1042.4,397.7 1199.2,82.1 1200.5,85.4 1046.0,398.3" fill="#843b6c" stroke="#843b6c" stroke-width="0.6"/>
<polygon points="1046.0,398.3 1200.5,85.4 1201.9,88.6 1049.5,398.7" fill="#7c3a74" stroke="#7c3a74" stroke-width="0.6"/>
<polygon points="1049.5,398.7 1201.9,88.6 1203.2,91.6 1053.0,399.0" fill="#74397c" stroke="#74397c" stroke-width="0.6"/>
<polygon points="1053.0,399.0 1203.2,91.6 1204.6,94.5 1056.5,399.1" fill="#6c3884" stroke="#6c3884" stroke-width="0.6"/>
<polygon points="1056.5,399.1 1204.6,94.5 1206.1,97.2 1060.0,399.0" fill="#663788" stroke="#663788" stroke-width="0.6"/>
<polygon points="1060.0,399.0 1206.1,97.2 1207.5,99.8 1063.5,398.7" fill="#60368b" stroke="#60368b" stroke-width="0.6"/>
<polygon points="1063.5,398.7 1207.5,99.8 1209.0,102.2 1067.0,398.3" fill="#5a358e" stroke="#5a358e" stroke-width="0.6"/>
<polygon points="1067.0,398.3 1209.0,102.2 1210.5,104.4 1070.5,397.7" fill="#543590" stroke="#543590" stroke-width="0.6"/>
<polygon points="1070.5,397.7 1210.5,104.4 1212.0,106.4 1073.9,396.8" fill="#4f3492" stroke="#4f3492" stroke-width="0.6"/>
<polygon points="1073.9,396.8 1212.0,106.4 1213.5,108.3 1077.4,395.8" fill="#4c3391" stroke="#4c3391" stroke-width="0.6"/>
<polygon points="1077.4,395.8 1213.5,108.3 1215.1,110.0 1080.9,394.6" fill="#493290" stroke="#493290" stroke-width="0.6"/>
<polygon points="1080.9,394.6 1215.1,110.0 1216.7,111.5 1084.5,393.3" fill="#47318f" stroke="#47318f" stroke-width="0.6"/>
<polygon points="1084.5,393.3 1216.7,111.5 1218.3,112.8 1088.0,391.7" fill="#44308e" stroke="#44308e" stroke-width="0.6"/>
<polygon points="1088.0,391.7 1218.3,112.8 1220.0,114.0 1091.5,389.9" fill="#452f8c" stroke="#452f8c" stroke-width="0.6"/>
<polygon points="1091.5,389.9 1220.0,114.0 1221.6,115.0 1095.0,388.0" fill="#462f89" stroke="#462f89" stroke-width="0.6"/>
<polygon points="1095.0,388.0 1221.6,115.0 1223.3,115.8 1098.6,385.8" fill="#472e87" stroke="#472e87" stroke-width="0.6"/>
<polygon points="1098.6,385.8 1223.3,115.8 1225.1,116.4 1102.1,383.5" fill="#4c2d80" stroke="#4c2d80" stroke-width="0.6"/>
<polygon points="1102.1,383.5 1225.1,116.4 1226.8,116.9 1105.7,381.1" fill="#552b74" stroke="#552b74" stroke-width="0.6"/>
<polygon points="1105.7,381.1 1226.8,116.9 1228.6,117.3 1109.3,378.4" fill="#5d2968" stroke="#5d2968" stroke-width="0.6"/>
<polygon points="1109.3,378.4 1228.6,117.3 1230.4,117.4 1112.9,375.6" fill="#672759" stroke="#672759" stroke-width="0.6"/>
<polygon points="1112.9,375.6 1230.4,117.4 1232.3,117.5 1116.5,372.6" fill="#712448" stroke="#712448" stroke-width="0.6"/>
<polygon points="1116.5,372.6 1232.3,117.5 1234.1,117.4 1120.1,369.5" fill="#7b2237" stroke="#7b2237" stroke-width="0.6"/>
<polygon points="1120.1,369.5 1234.1,117.4 1236.0,117.1 1123.7,366.3" fill="#802331" stroke="#802331" stroke-width="0.6"/>
<polygon points="1123.7,366.3 1236.0,117.1 1238.0,116.7 1127.4,362.9" fill="#83232c" stroke="#83232c" stroke-width="0.6"/>
<polygon points="1127.4,362.9 1238.0,116.7 1239.9,116.2 1131.1,359.3" fill="#872428" stroke="#872428" stroke-width="0.6"/>
<polygon points="1131.1,359.3 1239.9,116.2 1241.9,115.5 1134.7,355.6" fill="#8a2524" stroke="#8a2524" stroke-width="0.6"/>
<polygon points="1134.7,355.6 1241.9,115.5 1243.9,114.6 1138.5,351.6" fill="#8e2520" stroke="#8e2520" stroke-width="0.6"/>
<polygon points="1138.5,351.6 1243.9,114.6 1246.0,113.3 1142.2,347.3" fill="#91271c" stroke="#91271c" stroke-width="0.6"/>
<polygon points="1142.2,347.3 1246.0,113.3 1248.2,111.7 1146.0,342.5" fill="#94321f" stroke="#94321f" stroke-width="0.6"/>
<polygon points="1146.0,342.5 1248.2,111.7 1250.2,110.7 1149.8,338.5" fill="#973d21" stroke="#973d21" stroke-width="0.6"/>
<polygon points="1149.8,338.5 1250.2,110.7 1252.3,110.0 1153.5,334.7" fill="#9a4723" stroke="#9a4723" stroke-width="0.6"/>
<polygon points="1153.5,334.7 1252.3,110.0 1254.3,109.4 1157.2,331.1" fill="#9d5226" stroke="#9d5226" stroke-width="0.6"/>
<polygon points="1157.2,331.1 1254.3,109.4 1256.4,108.9 1160.9,327.6" fill="#a05d29" stroke="#a05d29" stroke-width="0.6"/>
<polygon points="1160.9,327.6 1256.4,108.9 1258.4,108.6 1164.6,324.2" fill="#a4692f" stroke="#a4692f" stroke-width="0.6"/>
<polygon points="1164.6,324.2 1258.4,108.6 1260.4,108.4 1168.3,321.0" fill="#a77536" stroke="#a77536" stroke-width="0.6"/>
<polygon points="1168.3,321.0 1260.4,108.4 1262.4,108.4 1172.0,318.0" fill="#ab813c" stroke="#ab813c" stroke-width="0.6"/>
<polygon points="1172.0,318.0 1262.4,108.4 1264.4,108.5 1175.6,315.1" fill="#ae8d43" stroke="#ae8d43" stroke-width="0.6"/>
<polygon points="1175.6,315.1 1264.4,108.5 1266.4,108.8 1179.3,312.3" fill="#b2984a" stroke="#b2984a" stroke-width="0.6"/>
<polygon points="1179.3,312.3 1266.4,108.8 1268.3,109.3 1182.9,309.8" fill="#b5a14f" stroke="#b5a14f" stroke-width="0.6"/>
<polygon points="1182.9,309.8 1268.3,109.3 1270.3,109.9 1186.5,307.4" fill="#b6a551" stroke="#b6a551" stroke-width="0.6"/>
<polygon points="1186.5,307.4 1270.3,109.9 1272.2,110.7 1190.1,305.2" fill="#b8a854" stroke="#b8a854" stroke-width="0.6"/>
<polygon points="1190.1,305.2 1272.2,110.7 1274.1,111.7 1193.6,303.2" fill="#b9ab57" stroke="#b9ab57" stroke-width="0.6"/>
<polygon points="1193.6,303.2 1274.1,111.7 1276.0,112.9 1197.1,301.4" fill="#bbae59" stroke="#bbae59" stroke-width="0.6"/>
<polygon points="1197.1,301.4 1276.0,112.9 1277.9,114.3 1200.6,299.8" fill="#bcb25c" stroke="#bcb25c" stroke-width="0.6"/>
<polygon points="1200.6,299.8 1277.9,114.3 1279.7,115.9 1204.1,298.4" fill="#beb55e" stroke="#beb55e" stroke-width="0.6"/>
<polygon points="1204.1,298.4 1279.7,115.9 1281.5,117.7 1207.5,297.3" fill="#bfb861" stroke="#bfb861" stroke-width="0.6"/>
<polygon points="1207.5,297.3 1281.5,117.7 1283.3,119.7 1211.0,296.3" fill="#c0b961" stroke="#c0b961" stroke-width="0.6"/>
<polygon points="1211.0,296.3 1283.3,119.7 1285.1,121.9 1214.3,295.5" fill="#c1b65f" stroke="#c1b65f" stroke-width="0.6"/>
<polygon points="1214.3,295.5 1285.1,121.9 1286.8,124.3 1217.7,294.9" fill="#c1b45e" stroke="#c1b45e" stroke-width="0.6"/>
<polygon points="1217.7,294.9 1286.8,124.3 1288.5,126.9 1221.0,294.6" fill="#c1b15c" stroke="#c1b15c" stroke-width="0.6"/>
<polygon points="1221.0,294.6 1288.5,126.9 1290.2,129.7 1224.2,294.4" fill="#c2af5a" stroke="#c2af5a" stroke-width="0.6"/>
<polygon points="1224.2,294.4 1290.2,129.7 1291.9,132.7 1227.5,294.4" fill="#c2ad58" stroke="#c2ad58" stroke-width="0.6"/>
<polygon points="1227.5,294.4 1291.9,132.7 1293.5,135.9 1230.7,294.6" fill="#c1a656" stroke="#c1a656" stroke-width="0.6"/>
<polygon points="1230.7,294.6 1293.5,135.9 1295.1,139.3 1233.8,295.0" fill="#c19f54" stroke="#c19f54" stroke-width="0.6"/>
<polygon points="1233.8,295.0 1295.1,139.3 1296.7,142.8 1237.0,295.6" fill="#c09851" stroke="#c09851" stroke-width="0.6"/>
<polygon points="1237.0,295.6 1296.7,142.8 1298.3,146.5 1240.1,296.3" fill="#bf914f" stroke="#bf914f" stroke-width="0.6"/>
<polygon points="1240.1,296.3 1298.3,146.5 1299.8,150.4 1243.1,297.2" fill="#be8a4d" stroke="#be8a4d" stroke-width="0.6"/>
<polygon points="1243.1,297.2 1299.8,150.4 1301.3,154.4 1246.1,298.3" fill="#bd834b" stroke="#bd834b" stroke-width="0.6"/>
<polygon points="1246.1,298.3 1301.3,154.4 1302.8,158.6 1249.1,299.4" fill="#bc7c4a" stroke="#bc7c4a" stroke-width="0.6"/>
<polygon points="1249.1,299.4 1302.8,158.6 1304.3,162.9 1252.1,300.8" fill="#bb7549" stroke="#bb7549" stroke-width="0.6"/>
<polygon points="1252.1,300.8 1304.3,162.9 1305.7,167.3 1255.0,302.2" fill="#b96e47" stroke="#b96e47" stroke-width="0.6"/>
<polygon points="1255.0,302.2 1305.7,167.3 1307.1,171.9 1257.9,303.9" fill="#b86846" stroke="#b86846" stroke-width="0.6"/>
<polygon points="1257.9,303.9 1307.1,171.9 1308.5,176.8 1260.7,305.7" fill="#b66247" stroke="#b66247" stroke-width="0.6"/>
<polygon points="1260.7,305.7 1308.5,176.8 1309.8,182.3 1263.4,308.2" fill="#b25c48" stroke="#b25c48" stroke-width="0.6"/>
<polygon points="1263.4,308.2 1309.8,182.3 1311.1,187.5 1266.1,310.4" fill="#af5749" stroke="#af5749" stroke-width="0.6"/>
<polygon points="1266.1,310.4 1311.1,187.5 1312.5,192.3 1268.9,312.2" fill="#ac514b" stroke="#ac514b" stroke-width="0.6"/>
<polygon points="1268.9,312.2 1312.5,192.3 1313.9,196.9 1271.7,313.7" fill="#a94b4c" stroke="#a94b4c" stroke-width="0.6"/>
<polygon points="1271.7,313.7 1313.9,196.9 1315.3,201.3 1274.6,315.1" fill="#a34850" stroke="#a34850" stroke-width="0.6"/>
<polygon points="1274.6,315.1 1315.3,201.3 1316.8,205.6 1277.4,316.3" fill="#9c4456" stroke="#9c4456" stroke-width="0.6"/>
<polygon points="1277.4,316.3 1316.8,205.6 1318.3,209.8 1280.3,317.4" fill="#96415b" stroke="#96415b" stroke-width="0.6"/>
<polygon points="1280.3,317.4 1318.3,209.8 1319.8,213.8 1283.1,318.3" fill="#8f3e61" stroke="#8f3e61" stroke-width="0.6"/>
<polygon points="1283.1,318.3 1319.8,213.8 1321.4,217.7 1286.0,319.1" fill="#883c68" stroke="#883c68" stroke-width="0.6"/>
<polygon points="1286.0,319.1 1321.4,217.7 1323.0,221.4 1288.9,319.7" fill="#803b70" stroke="#803b70" stroke-width="0.6"/>
<polygon points="1288.9,319.7 1323.0,221.4 1324.6,225.0 1291.8,320.2" fill="#783a78" stroke="#783a78" stroke-width="0.6"/>
<polygon points="1291.8,320.2 1324.6,225.0 1326.3,228.4 1294.7,320.5" fill="#703980" stroke="#703980" stroke-width="0.6"/>
<polygon points="1294.7,320.5 1326.3,228.4 1328.0,231.6 1297.7,320.6" fill="#693887" stroke="#693887" stroke-width="0.6"/>
<polygon points="1297.7,320.6 1328.0,231.6 1329.7,234.7 1300.7,320.5" fill="#633789" stroke="#633789" stroke-width="0.6"/>
<polygon points="1300.7,320.5 1329.7,234.7 1331.5,237.7 1303.7,320.3" fill="#5d368c" stroke="#5d368c" stroke-width="0.6"/>
<polygon points="1303.7,320.3 1331.5,237.7 1333.3,240.4 1306.7,319.9" fill="#57358f" stroke="#57358f" stroke-width="0.6"/>
<polygon points="1306.7,319.9 1333.3,240.4 1335.1,243.0 1309.8,319.3" fill="#513492" stroke="#513492" stroke-width="0.6"/>
<polygon points="1309.8,319.3 1335.1,243.0 1337.0,245.4 1312.9,318.5" fill="#4d3391" stroke="#4d3391" stroke-width="0.6"/>
<polygon points="1312.9,318.5 1337.0,245.4 1338.9,247.6 1316.0,317.5" fill="#4b3290" stroke="#4b3290" stroke-width="0.6"/>
<polygon points="1316.0,317.5 1338.9,247.6 1340.9,249.6 1319.2,316.3" fill="#48318f" stroke="#48318f" stroke-width="0.6"/>
<polygon points="1319.2,316.3 1340.9,249.6 1342.9,251.4 1322.4,315.0" fill="#45308e" stroke="#45308e" stroke-width="0.6"/>
<polygon points="1322.4,315.0 1342.9,251.4 1345.0,253.1 1325.6,313.4" fill="#45308d" stroke="#45308d" stroke-width="0.6"/>
<polygon points="1325.6,313.4 1345.0,253.1 1347.1,254.6 1328.9,311.7" fill="#462f8a" stroke="#462f8a" stroke-width="0.6"/>
<polygon points="1328.9,311.7 1347.1,254.6 1349.3,255.9 1332.2,309.8" fill="#472f88" stroke="#472f88" stroke-width="0.6"/>
<polygon points="1332.2,309.8 1349.3,255.9 1351.5,257.0 1335.5,307.7" fill="#482e86" stroke="#482e86" stroke-width="0.6"/>
<polygon points="1335.5,307.7 1351.5,257.0 1353.7,258.0 1338.9,305.4" fill="#512c7a" stroke="#512c7a" stroke-width="0.6"/>
<polygon points="1338.9,305.4 1353.7,258.0 1356.0,258.8 1342.3,303.0" fill="#592a6e" stroke="#592a6e" stroke-width="0.6"/>
<polygon points="1342.3,303.0 1356.0,258.8 1358.4,259.5 1345.7,300.4" fill="#622861" stroke="#622861" stroke-width="0.6"/>
<polygon points="1345.7,300.4 1358.4,259.5 1360.8,260.0 1349.2,297.6" fill="#6c2650" stroke="#6c2650" stroke-width="0.6"/>
<polygon points="1349.2,297.6 1360.8,260.0 1363.2,260.3 1352.7,294.7" fill="#762340" stroke="#762340" stroke-width="0.6"/>
<polygon points="1352.7,294.7 1363.2,260.3 1365.7,260.5 1356.2,291.7" fill="#7e2233" stroke="#7e2233" stroke-width="0.6"/>
<polygon points="1356.2,291.7 1365.7,260.5 1368.2,260.6 1359.8,288.5" fill="#82232f" stroke="#82232f" stroke-width="0.6"/>
<polygon points="1359.8,288.5 1368.2,260.6 1370.8,260.5 1363.4,285.1" fill="#85242a" stroke="#85242a" stroke-width="0.6"/>
<polygon points="1363.4,285.1 1370.8,260.5 1373.4,260.3 1367.0,281.7" fill="#892426" stroke="#892426" stroke-width="0.6"/>
<polygon points="1367.0,281.7 1373.4,260.3 1376.1,259.9 1370.7,278.0" fill="#8c2522" stroke="#8c2522" stroke-width="0.6"/>
<polygon points="1370.7,278.0 1376.1,259.9 1378.9,259.2 1374.5,274.0" fill="#90261e" stroke="#90261e" stroke-width="0.6"/>
<polygon points="1374.5,274.0 1378.9,259.2 1381.8,257.8 1378.4,269.4" fill="#932c1d" stroke="#932c1d" stroke-width="0.6"/>
<polygon points="1378.4,269.4 1381.8,257.8 1384.6,257.1 1382.2,265.3" fill="#963720" stroke="#963720" stroke-width="0.6"/>
<polygon points="1382.2,265.3 1384.6,257.1 1387.4,256.6 1386.0,261.5" fill="#994222" stroke="#994222" stroke-width="0.6"/>
<polygon points="1386.0,261.5 1387.4,256.6 1390.1,256.3 1389.6,258.0" fill="#9c4d25" stroke="#9c4d25" stroke-width="0.6"/>
<polygon points="1389.6,258.0 1390.1,256.3 1391.5,256.2 1391.5,256.2" fill="#9f5827" stroke="#9f5827" stroke-width="0.6"/>
</g>
<g filter="url(#stex)"><polygon points="632.7,202.5 636.5,199.3 636.1,197.2 632.5,201.6" fill="#6d254e"/><polygon points="636.5,199.3 640.3,195.8 639.8,193.4 636.2,197.8" fill="#7a2339"/><polygon points="640.3,195.8 644.0,192.1 643.9,191.8 639.8,193.4" fill="#802330"/><polygon points="644.0,192.1 647.7,188.1 647.0,184.8 644.0,192.0" fill="#85242b"/><polygon points="647.7,188.1 651.3,183.9 651.1,183.0 647.5,187.1" fill="#892426"/><polygon points="651.3,183.9 654.9,179.5 654.5,177.6 650.6,180.0" fill="#8d2520"/><polygon points="654.9,179.5 658.3,174.2 658.0,172.3 654.3,176.2" fill="#92281d"/><polygon points="658.3,174.2 661.9,169.2 661.8,168.6 657.9,171.6" fill="#953620"/><polygon points="661.9,169.2 665.5,164.7 664.9,161.3 661.4,166.7" fill="#994323"/><polygon points="665.5,164.7 669.2,160.6 668.7,157.6 665.1,162.7" fill="#9d5126"/><polygon points="669.2,160.6 672.9,156.6 672.9,156.4 668.7,157.9" fill="#a15e29"/><polygon points="672.9,156.6 676.7,152.9 676.3,150.5 672.4,153.6" fill="#a56d32"/><polygon points="676.7,152.9 680.5,149.4 680.5,149.3 676.5,151.7" fill="#a97c3a"/><polygon points="680.5,149.4 684.4,146.1 684.1,144.2 679.9,145.9" fill="#ae8b42"/><polygon points="684.4,146.1 688.3,143.1 687.7,139.6 683.9,143.2" fill="#b29a4b"/><polygon points="688.3,143.1 692.2,140.4 691.6,136.6 687.8,140.2" fill="#b5a250"/><polygon points="692.2,140.4 696.2,137.9 695.7,134.7 692.0,138.8" fill="#b7a753"/><polygon points="696.2,137.9 700.3,135.7 699.7,131.9 696.0,136.1" fill="#b9ab56"/><polygon points="700.3,135.7 704.4,133.9 704.3,133.5 699.7,132.2" fill="#bbaf59"/><polygon points="704.4,133.9 708.5,132.3 708.4,131.4 704.3,133.3" fill="#bdb35d"/><polygon points="708.5,132.3 712.7,131.0 712.4,129.3 707.9,128.4" fill="#bfb760"/><polygon points="712.7,131.0 716.9,130.1 716.7,128.9 712.3,128.5" fill="#c0b961"/><polygon points="716.9,130.1 721.2,129.4 720.9,127.9 716.6,128.0" fill="#c1b65f"/><polygon points="721.2,129.4 725.5,129.1 725.1,126.7 721.0,128.0" fill="#c1b35d"/><polygon points="725.5,129.1 729.8,129.1 729.3,125.4 725.1,126.8" fill="#c1b05b"/><polygon points="729.8,129.1 734.1,129.4 733.6,125.6 729.4,126.3" fill="#c2ad59"/><polygon points="734.1,129.4 738.5,129.9 738.0,125.9 733.6,125.9" fill="#c1a556"/><polygon points="738.5,129.9 742.9,130.7 742.8,130.1 738.1,127.2" fill="#c09c53"/><polygon points="742.9,130.7 747.3,131.8 746.8,127.9 742.4,127.3" fill="#bf9450"/><polygon points="747.3,131.8 751.7,133.1 751.4,130.8 746.8,128.2" fill="#be8b4d"/><polygon points="751.7,133.1 756.2,134.6 756.1,133.8 751.4,130.2" fill="#bd824b"/><polygon points="756.2,134.6 760.6,136.4 760.3,134.1 755.8,131.3" fill="#bb7949"/><polygon points="760.6,136.4 765.1,138.3 765.1,138.1 760.5,135.2" fill="#ba7148"/><polygon points="765.1,138.3 769.5,140.5 769.1,136.6 764.7,135.0" fill="#b86846"/><polygon points="769.5,140.5 774.0,143.1 773.7,139.9 769.5,140.2" fill="#b56147"/><polygon points="774.0,143.1 778.6,146.5 778.5,145.9 773.8,141.5" fill="#b15a49"/><polygon points="778.6,146.5 783.0,149.0 782.7,146.0 778.4,145.3" fill="#ad534a"/><polygon points="783.0,149.0 787.4,151.1 787.4,150.9 782.6,145.6" fill="#a94c4c"/><polygon points="787.4,151.1 791.7,153.0 791.7,152.8 787.1,148.7" fill="#a24751"/><polygon points="791.7,153.0 796.0,154.7 795.8,153.4 791.4,150.2" fill="#9a4358"/><polygon points="796.0,154.7 800.2,156.1 799.8,152.4 795.6,151.3" fill="#923f5f"/><polygon points="800.2,156.1 804.4,157.4 804.0,153.5 800.0,154.2" fill="#893c67"/><polygon points="804.4,157.4 808.5,158.3 808.5,158.0 804.3,156.2" fill="#7f3b71"/><polygon points="808.5,158.3 812.6,159.1 812.6,158.9 808.3,156.0" fill="#75397b"/><polygon points="812.6,159.1 816.7,159.5 816.5,158.0 812.5,158.3" fill="#6c3884"/><polygon points="816.7,159.5 820.7,159.7 820.7,159.2 816.5,157.2" fill="#643789"/><polygon points="820.7,159.7 824.7,159.7 824.4,156.4 820.7,159.6" fill="#5c368c"/><polygon points="824.7,159.7 828.7,159.3 828.3,155.7 824.6,158.5" fill="#543590"/><polygon points="828.7,159.3 832.6,158.7 832.5,157.3 828.4,155.9" fill="#4f3492"/><polygon points="832.6,158.7 836.5,157.8 836.3,155.8 832.4,157.0" fill="#4b3290"/><polygon points="836.5,157.8 840.3,156.6 840.1,154.3 836.3,155.3" fill="#48318f"/><polygon points="840.3,156.6 844.1,155.1 844.0,152.7 840.1,154.5" fill="#44308e"/><polygon points="844.1,155.1 847.9,153.3 847.8,151.4 843.9,151.5" fill="#452f8b"/><polygon points="847.9,153.3 851.7,151.2 851.5,148.5 847.8,151.7" fill="#472f88"/><polygon points="851.7,151.2 855.5,148.9 855.4,147.8 851.6,150.3" fill="#492e84"/><polygon points="855.5,148.9 859.2,146.3 859.1,144.4 855.2,145.2" fill="#542b75"/><polygon points="859.2,146.3 862.9,143.5 862.9,143.5 859.0,144.2" fill="#5e2866"/><polygon points="862.9,143.5 866.6,140.4 866.5,138.2 862.8,141.9" fill="#6b2652"/><polygon points="866.6,140.4 870.3,137.1 870.1,134.8 866.6,140.3" fill="#77233d"/><polygon points="870.3,137.1 874.0,133.6 874.0,133.3 870.1,134.7" fill="#7f2231"/><polygon points="874.0,133.6 877.6,129.8 877.5,128.0 873.8,131.2" fill="#84232c"/><polygon points="877.6,129.8 881.3,125.8 881.2,124.5 877.5,127.2" fill="#882427"/><polygon points="881.3,125.8 884.9,121.6 884.8,118.8 881.1,123.1" fill="#8d2521"/><polygon points="884.9,121.6 888.6,116.8 888.6,116.6 884.9,121.5" fill="#91261c"/><polygon points="888.6,116.8 892.2,111.7 892.0,107.9 888.4,114.2" fill="#95331f"/><polygon points="892.2,111.7 895.8,107.3 895.8,105.5 892.1,110.7" fill="#984122"/><polygon points="895.8,107.3 899.5,103.3 899.5,102.0 895.7,105.0" fill="#9c4e25"/><polygon points="899.5,103.3 903.2,99.4 903.2,98.2 899.5,101.8" fill="#a05c28"/><polygon points="903.2,99.4 907.0,95.8 906.9,93.4 903.2,98.0" fill="#a46a30"/><polygon points="907.0,95.8 910.7,92.4 910.6,90.9 906.9,94.6" fill="#a97938"/><polygon points="910.7,92.4 914.4,89.2 914.4,89.1 910.6,89.3" fill="#ad8841"/><polygon points="914.4,89.2 918.2,86.3 918.1,83.4 914.3,87.0" fill="#b19749"/><polygon points="918.2,86.3 922.0,83.6 921.9,82.7 918.2,85.1" fill="#b5a24f"/><polygon points="922.0,83.6 925.8,81.2 925.7,80.3 921.9,80.4" fill="#b7a652"/><polygon points="925.8,81.2 929.5,79.1 929.5,77.4 925.7,80.5" fill="#b9aa56"/><polygon points="929.5,79.1 933.3,77.3 933.3,76.9 929.5,76.3" fill="#baae59"/><polygon points="933.3,77.3 937.1,75.8 937.1,74.4 933.3,76.0" fill="#bcb25c"/><polygon points="937.1,75.8 941.0,74.5 940.9,72.8 937.0,72.4" fill="#beb65f"/><polygon points="941.0,74.5 944.8,73.6 944.7,73.0 940.9,71.1" fill="#c0ba62"/><polygon points="944.8,73.6 948.6,73.0 948.5,70.4 944.7,72.3" fill="#c0b760"/><polygon points="948.6,73.0 952.4,72.7 952.3,70.9 948.5,69.5" fill="#c1b45d"/><polygon points="952.4,72.7 956.2,72.7 956.2,72.2 952.4,71.8" fill="#c1b15b"/><polygon points="956.2,72.7 960.0,73.0 960.0,72.2 956.1,70.6" fill="#c2ad59"/><polygon points="960.0,73.0 963.8,73.5 963.7,70.2 959.9,69.8" fill="#c1a756"/><polygon points="963.8,73.5 967.6,74.4 967.6,73.3 963.8,72.8" fill="#c09e53"/><polygon points="967.6,74.4 971.3,75.4 971.3,72.9 967.5,71.2" fill="#bf9550"/><polygon points="971.3,75.4 975.1,76.8 975.1,75.4 971.3,72.3" fill="#be8c4d"/><polygon points="975.1,76.8 978.9,78.3 978.8,77.2 975.1,76.3" fill="#bd844b"/><polygon points="978.9,78.3 982.6,80.1 982.6,79.0 978.8,75.2" fill="#bc7b4a"/><polygon points="982.6,80.1 986.3,82.0 986.3,80.4 982.6,78.7" fill="#ba7348"/><polygon points="986.3,82.0 990.0,84.2 990.0,82.6 986.3,80.4" fill="#b96a47"/><polygon points="990.0,84.2 993.7,86.7 993.7,86.1 990.0,80.6" fill="#b66247"/><polygon points="993.7,86.7 997.3,90.0 997.4,86.4 993.7,86.7" fill="#b25b48"/><polygon points="997.3,90.0 1001.0,92.7 1001.0,88.9 997.4,86.7" fill="#ae544a"/><polygon points="1001.0,92.7 1004.6,95.0 1004.6,91.3 1001.0,91.0" fill="#aa4d4b"/><polygon points="1004.6,95.0 1008.2,96.9 1008.2,96.1 1004.6,91.4" fill="#a44850"/><polygon points="1008.2,96.9 1011.8,98.7 1011.8,95.5 1008.2,94.1" fill="#9c4457"/><polygon points="1011.8,98.7 1015.4,100.2 1015.4,98.3 1011.8,96.2" fill="#94405e"/><polygon points="1015.4,100.2 1019.0,101.6 1019.0,100.3 1015.4,99.2" fill="#8b3c65"/><polygon points="1019.0,101.6 1022.5,102.6 1022.5,102.4 1019.0,100.7" fill="#813b6f"/><polygon points="1022.5,102.6 1026.1,103.5 1026.1,102.4 1022.6,100.4" fill="#773a79"/><polygon points="1026.1,103.5 1029.6,104.1 1029.6,103.9 1026.1,100.5" fill="#6d3883"/><polygon points="1029.6,104.1 1033.1,104.4 1033.2,101.8 1029.7,100.7" fill="#653788"/><polygon points="1033.1,104.4 1036.7,104.5 1036.8,101.1 1033.2,101.0" fill="#5e368c"/><polygon points="1036.7,104.5 1040.2,104.3 1040.3,102.1 1036.8,101.1" fill="#56358f"/><polygon points="1040.2,104.3 1043.7,103.8 1043.8,101.0 1040.2,104.2" fill="#4f3492"/><polygon points="1043.7,103.8 1047.3,103.0 1047.3,101.9 1043.7,103.1" fill="#4c3391"/><polygon points="1047.3,103.0 1050.8,101.9 1050.9,100.0 1047.3,100.5" fill="#48318f"/><polygon points="1050.8,101.9 1054.3,100.6 1054.4,97.1 1050.8,100.4" fill="#45308e"/><polygon points="1054.3,100.6 1057.9,99.0 1057.9,97.7 1054.4,98.3" fill="#452f8c"/><polygon points="1057.9,99.0 1061.4,97.1 1061.5,93.9 1057.9,98.0" fill="#462f89"/><polygon points="1061.4,97.1 1065.0,94.9 1065.1,92.0 1061.5,95.3" fill="#482e86"/><polygon points="1065.0,94.9 1068.5,92.5 1068.6,91.8 1065.0,93.6" fill="#522c78"/><polygon points="1068.5,92.5 1072.1,89.8 1072.2,86.8 1068.6,90.5" fill="#5c2969"/><polygon points="1072.1,89.8 1075.7,86.9 1075.8,84.0 1072.1,89.2" fill="#682657"/><polygon points="1075.7,86.9 1079.3,83.8 1079.4,80.8 1075.9,83.5" fill="#752442"/><polygon points="1079.3,83.8 1082.9,80.4 1082.9,80.4 1079.4,80.7" fill="#7f2232"/><polygon points="1082.9,80.4 1086.6,76.9 1086.7,73.6 1083.0,78.1" fill="#83232d"/><polygon points="1086.6,76.9 1090.2,73.1 1090.2,72.0 1086.6,76.7" fill="#872428"/><polygon points="1090.2,73.1 1093.9,69.0 1094.0,67.0 1090.2,72.1" fill="#8c2522"/><polygon points="1093.9,69.0 1097.5,64.6 1097.6,62.8 1093.9,67.4" fill="#90261d"/><polygon points="1097.5,64.6 1101.3,59.5 1101.3,59.4 1097.7,61.6" fill="#94301e"/><polygon points="1101.3,59.5 1105.0,55.2 1105.0,54.7 1101.3,59.2" fill="#983e21"/><polygon points="1105.0,55.2 1108.7,51.2 1108.7,51.0 1105.0,54.7" fill="#9b4b24"/><polygon points="1108.7,51.2 1112.3,47.5 1112.5,44.2 1108.9,47.5" fill="#9f5927"/><polygon points="1112.3,47.5 1116.0,43.9 1116.1,42.0 1112.4,47.1" fill="#a3672e"/><polygon points="1116.0,43.9 1119.7,40.6 1119.7,39.4 1116.1,42.7" fill="#a87637"/><polygon points="1119.7,40.6 1123.3,37.5 1123.5,35.0 1119.8,39.3" fill="#ac853f"/><polygon points="1123.3,37.5 1126.9,34.7 1127.0,33.3 1123.5,35.3" fill="#b09447"/><polygon points="1126.9,34.7 1130.6,32.1 1130.6,30.8 1127.0,34.0" fill="#b4a14f"/><polygon points="1130.6,32.1 1134.1,29.8 1134.3,27.6 1130.6,31.6" fill="#b6a552"/><polygon points="1134.1,29.8 1137.7,27.7 1137.8,26.2 1134.4,27.0" fill="#b8a955"/><polygon points="1137.7,27.7 1141.3,25.9 1141.3,25.2 1137.7,27.4" fill="#baad58"/><polygon points="1141.3,25.9 1144.8,24.4 1145.0,22.1 1141.4,24.5" fill="#bcb15b"/><polygon points="1144.8,24.4 1148.3,23.2 1148.4,21.8 1145.0,21.4" fill="#beb55f"/><polygon points="1148.3,23.2 1151.8,22.4 1152.0,19.9 1148.5,20.1" fill="#c0ba62"/><polygon points="1151.8,22.4 1155.2,21.8 1155.3,20.3 1151.9,20.7" fill="#c0b760"/><polygon points="1155.2,21.8 1158.6,21.5 1158.9,18.7 1155.4,19.8" fill="#c1b45e"/><polygon points="1158.6,21.5 1162.0,21.5 1162.2,18.8 1158.8,19.8" fill="#c1b15c"/><polygon points="1162.0,21.5 1165.3,21.8 1165.4,20.8 1162.2,19.7" fill="#c2ae59"/><polygon points="1165.3,21.8 1168.6,22.3 1168.9,19.6 1165.5,19.7" fill="#c2a957"/><polygon points="1168.6,22.3 1171.9,23.1 1172.1,21.5 1168.7,22.0" fill="#c1a054"/><polygon points="1171.9,23.1 1175.2,24.2 1175.5,20.8 1172.1,21.5" fill="#c09751"/><polygon points="1175.2,24.2 1178.4,25.5 1178.5,24.1 1175.5,20.6" fill="#bf8e4e"/><polygon points="1178.4,25.5 1181.5,27.0 1181.8,24.0 1178.7,22.1" fill="#be854c"/><polygon points="1181.5,27.0 1182.2,27.4 1182.3,25.6 1181.6,26.0" fill="#bc7d4a"/><polygon points="1182.2,27.4 1183.8,32.0 1183.8,31.5 1182.5,24.3" fill="#bc7b4a"/><polygon points="1183.8,32.0 1185.4,36.9 1185.6,34.3 1184.1,28.6" fill="#ba7348"/><polygon points="1185.4,36.9 1186.9,41.9 1187.2,38.9 1185.6,34.3" fill="#b96a47"/><polygon points="1186.9,41.9 1188.5,47.3 1188.8,44.5 1187.2,39.8" fill="#b66247"/><polygon points="1188.5,47.3 1189.9,53.6 1190.0,53.2 1188.7,45.1" fill="#b25b48"/><polygon points="1189.9,53.6 1191.4,59.2 1191.5,59.2 1190.0,53.0" fill="#ae544a"/><polygon points="1191.4,59.2 1193.0,64.4 1193.3,61.5 1191.5,59.0" fill="#aa4d4b"/><polygon points="1193.0,64.4 1194.6,69.3 1194.6,69.0 1193.0,64.0" fill="#a44850"/><polygon points="1194.6,69.3 1196.2,74.1 1196.6,70.8 1194.7,68.6" fill="#9c4457"/><polygon points="1196.2,74.1 1197.8,78.6 1197.9,78.5 1196.5,70.9" fill="#94405e"/><polygon points="1197.8,78.6 1199.5,82.9 1199.5,82.5 1198.2,75.4" fill="#8b3c65"/><polygon points="1199.5,82.9 1201.2,87.0 1201.5,84.5 1199.8,79.8" fill="#813b6f"/><polygon points="1201.2,87.0 1202.9,90.9 1203.3,87.3 1201.4,84.8" fill="#773a79"/><polygon points="1202.9,90.9 1204.6,94.5 1205.0,91.5 1202.9,90.7" fill="#6d3883"/><polygon points="1204.6,94.5 1206.4,97.9 1206.8,95.0 1204.9,92.6" fill="#653788"/><polygon points="1206.4,97.9 1208.2,101.0 1208.5,98.3 1206.5,97.5" fill="#5e368c"/><polygon points="1208.2,101.0 1210.1,103.8 1210.4,101.1 1208.6,97.5" fill="#56358f"/><polygon points="1210.1,103.8 1212.0,106.4 1212.0,106.2 1210.2,102.6" fill="#4f3492"/><polygon points="1212.0,106.4 1213.9,108.7 1214.2,106.6 1212.3,103.3" fill="#4c3391"/><polygon points="1213.9,108.7 1215.9,110.8 1216.0,109.9 1214.0,108.1" fill="#48318f"/><polygon points="1215.9,110.8 1217.9,112.5 1218.0,111.6 1216.2,108.5" fill="#45308e"/><polygon points="1217.9,112.5 1220.0,114.0 1220.3,111.2 1218.1,111.0" fill="#452f8c"/><polygon points="1220.0,114.0 1222.0,115.2 1222.2,113.8 1220.1,112.5" fill="#462f89"/><polygon points="1222.0,115.2 1224.2,116.1 1224.4,114.8 1222.2,113.6" fill="#482e86"/><polygon points="1224.2,116.1 1226.4,116.8 1226.4,116.5 1224.4,114.3" fill="#522c78"/><polygon points="1226.4,116.8 1228.6,117.3 1229.1,113.6 1226.6,115.3" fill="#5c2969"/><polygon points="1228.6,117.3 1230.9,117.5 1231.2,114.6 1228.7,116.7" fill="#682657"/><polygon points="1230.9,117.5 1233.2,117.4 1233.5,114.8 1231.2,114.6" fill="#752442"/><polygon points="1233.2,117.4 1235.6,117.2 1235.9,114.6 1233.4,115.5" fill="#7f2232"/><polygon points="1235.6,117.2 1238.0,116.7 1238.2,114.9 1235.9,114.7" fill="#83232d"/><polygon points="1238.0,116.7 1240.4,116.0 1240.9,112.6 1238.0,116.2" fill="#872428"/><polygon points="1240.4,116.0 1242.9,115.1 1243.0,114.7 1240.8,113.2" fill="#8c2522"/><polygon points="1242.9,115.1 1245.5,113.7 1246.0,110.2 1243.2,113.1" fill="#90261d"/><polygon points="1245.5,113.7 1248.2,111.7 1248.4,110.0 1245.9,111.0" fill="#94301e"/><polygon points="1248.2,111.7 1250.7,110.5 1250.8,109.8 1248.3,110.7" fill="#983e21"/><polygon points="1250.7,110.5 1253.3,109.7 1253.4,108.9 1251.1,108.3" fill="#9b4b24"/><polygon points="1253.3,109.7 1255.8,109.0 1256.0,107.8 1253.4,108.8" fill="#9f5927"/><polygon points="1255.8,109.0 1258.4,108.6 1258.8,105.9 1256.4,105.3" fill="#a3672e"/><polygon points="1258.4,108.6 1260.9,108.4 1261.1,107.3 1258.8,105.8" fill="#a87637"/><polygon points="1260.9,108.4 1263.4,108.5 1263.6,106.8 1261.4,105.0" fill="#ac853f"/><polygon points="1263.4,108.5 1265.9,108.7 1266.2,106.4 1263.6,107.4" fill="#b09447"/><polygon points="1265.9,108.7 1268.3,109.3 1268.5,108.4 1265.9,108.7" fill="#b4a14f"/><polygon points="1268.3,109.3 1270.8,110.1 1271.0,108.2 1268.6,107.8" fill="#b6a552"/><polygon points="1270.8,110.1 1273.2,111.2 1273.3,110.5 1271.0,108.7" fill="#b8a955"/><polygon points="1273.2,111.2 1275.5,112.6 1275.7,111.3 1273.6,108.1" fill="#baad58"/><polygon points="1275.5,112.6 1277.9,114.3 1278.0,113.8 1276.1,108.6" fill="#bcb15b"/><polygon points="1277.9,114.3 1280.2,116.4 1280.5,114.4 1278.2,111.9" fill="#beb55f"/><polygon points="1280.2,116.4 1282.4,118.7 1282.7,116.8 1280.7,113.0" fill="#c0ba62"/><polygon points="1282.4,118.7 1284.6,121.4 1285.2,118.0 1282.8,116.5" fill="#c0b760"/><polygon points="1284.6,121.4 1286.8,124.3 1287.1,122.4 1285.1,118.5" fill="#c1b45e"/><polygon points="1286.8,124.3 1289.0,127.6 1289.5,124.2 1287.1,122.7" fill="#c1b15c"/><polygon points="1289.0,127.6 1291.1,131.2 1291.5,128.3 1289.6,123.8" fill="#c2ae59"/><polygon points="1291.1,131.2 1293.1,135.1 1293.4,133.2 1291.2,130.3" fill="#c2a957"/><polygon points="1293.1,135.1 1295.1,139.3 1295.3,138.3 1293.6,132.2" fill="#c1a054"/><polygon points="1295.1,139.3 1297.1,143.7 1297.6,141.0 1295.8,135.4" fill="#c09751"/><polygon points="1297.1,143.7 1299.0,148.4 1299.6,145.0 1297.3,142.8" fill="#bf8e4e"/><polygon points="1299.0,148.4 1300.9,153.4 1301.1,152.6 1299.2,147.4" fill="#be854c"/><polygon points="1300.9,153.4 1302.8,158.6 1302.9,157.8 1301.4,150.6" fill="#bc7d4a"/><polygon points="1302.8,158.6 1304.6,164.0 1305.2,160.5 1303.4,155.0" fill="#bb7449"/><polygon points="1304.6,164.0 1306.4,169.6 1306.6,168.6 1305.2,160.5" fill="#b96c47"/><polygon points="1306.4,169.6 1308.2,175.6 1308.4,174.3 1306.7,167.9" fill="#b76446"/><polygon points="1308.2,175.6 1309.8,182.3 1310.3,179.5 1308.2,175.2" fill="#b35d48"/><polygon points="1309.8,182.3 1311.4,188.7 1311.5,188.4 1310.3,179.0" fill="#af5649"/><polygon points="1311.4,188.7 1313.2,194.6 1313.4,193.5 1311.7,187.3" fill="#ab4f4b"/><polygon points="1313.2,194.6 1315.0,200.2 1315.4,198.0 1313.6,192.0" fill="#a5494e"/><polygon points="1315.0,200.2 1316.8,205.6 1316.8,205.6 1315.2,198.9" fill="#9d4555"/><polygon points="1316.8,205.6 1318.7,210.8 1319.0,209.1 1317.1,203.7" fill="#95415c"/><polygon points="1318.7,210.8 1320.6,215.7 1320.8,214.9 1319.1,208.5" fill="#8d3c63"/><polygon points="1320.6,215.7 1322.6,220.5 1323.3,216.8 1320.9,214.2" fill="#833b6d"/><polygon points="1322.6,220.5 1324.6,225.0 1325.0,222.9 1322.7,220.0" fill="#793a77"/><polygon points="1324.6,225.0 1326.7,229.2 1326.9,228.2 1325.1,222.4" fill="#6f3981"/><polygon points="1326.7,229.2 1328.8,233.2 1328.9,232.8 1327.3,225.8" fill="#673788"/><polygon points="1328.8,233.2 1331.0,236.9 1331.7,233.4 1328.9,232.8" fill="#5f368b"/><polygon points="1331.0,236.9 1333.3,240.4 1334.0,236.8 1331.3,235.5" fill="#57358f"/><polygon points="1333.3,240.4 1335.6,243.6 1336.2,240.6 1333.8,237.5" fill="#503492"/><polygon points="1335.6,243.6 1338.0,246.5 1338.2,245.3 1336.1,241.0" fill="#4c3391"/><polygon points="1338.0,246.5 1340.4,249.1 1340.9,246.6 1338.6,243.4" fill="#493290"/><polygon points="1340.4,249.1 1342.9,251.4 1343.1,250.4 1341.0,246.2" fill="#45308e"/><polygon points="1342.9,251.4 1345.5,253.5 1346.3,249.8 1343.5,248.8" fill="#45308c"/><polygon points="1345.5,253.5 1348.2,255.3 1348.6,253.2 1345.6,253.0" fill="#462f8a"/><polygon points="1348.2,255.3 1350.9,256.8 1351.3,254.8 1348.5,253.9" fill="#482e87"/><polygon points="1350.9,256.8 1353.7,258.0 1354.3,255.2 1351.5,254.1" fill="#502c7b"/><polygon points="1353.7,258.0 1356.6,259.0 1357.1,256.8 1353.9,257.3" fill="#5a296c"/><polygon points="1356.6,259.0 1359.6,259.7 1360.1,257.2 1357.1,256.5" fill="#66275b"/><polygon points="1359.6,259.7 1362.6,260.2 1362.8,259.5 1360.3,256.3" fill="#722446"/><polygon points="1362.6,260.2 1365.7,260.5 1366.3,257.9 1362.7,259.7" fill="#7e2233"/><polygon points="1365.7,260.5 1368.9,260.6 1369.7,256.9 1365.8,260.0" fill="#82232e"/><polygon points="1368.9,260.6 1372.1,260.4 1372.4,259.1 1369.5,257.7" fill="#862429"/><polygon points="1372.1,260.4 1375.4,260.0 1376.0,257.6 1372.6,258.2" fill="#8b2523"/><polygon points="1375.4,260.0 1378.9,259.2 1379.4,256.6 1375.8,258.2" fill="#8f261e"/><polygon points="1378.9,259.2 1382.5,257.6 1382.8,256.3 1379.0,258.5" fill="#932e1e"/><polygon points="1382.5,257.6 1386.0,256.8 1386.1,256.5 1383.2,254.7" fill="#973b21"/><polygon points="1386.0,256.8 1389.4,256.4 1390.1,253.3 1386.5,254.6" fill="#9b4924"/><polygon points="1389.4,256.4 1391.5,256.2 1392.2,253.2 1389.8,254.9" fill="#9e5627"/></g>
<polygon points="635.4,215.8 746.8,510.4 741.6,479.7 739.8,472.8 738.0,465.8 736.1,458.7 734.8,454.8 733.0,448.1 731.5,443.3 729.8,436.8 728.4,432.6 726.9,427.7 725.4,422.8 724.0,417.8 722.5,412.8 721.3,409.6 719.7,404.4 718.7,402.2 717.4,398.2 716.3,395.2 715.1,392.0 713.7,387.5 712.6,384.8 711.8,383.6 710.8,381.2 709.7,378.6 708.7,375.9 707.8,374.0 706.9,372.7 706.2,371.7 705.6,371.6 704.7,370.1 704.1,369.8 703.3,368.4 702.6,367.8 702.2,368.4 701.6,368.1 700.8,366.9 700.6,368.8 699.9,368.0 699.5,368.4 698.9,368.4 698.6,369.6 698.0,369.1 697.4,368.6 696.8,368.0 696.0,366.6 695.5,366.5 694.9,366.4 694.0,364.1 693.4,363.7 692.6,362.0 691.8,360.2 691.3,360.0 690.1,356.4 689.2,354.5 688.4,352.6 687.4,350.0 686.5,347.5 685.6,345.3 684.4,341.5 683.5,339.4 682.2,335.0 681.0,331.1 679.9,327.9 678.7,323.7 677.3,318.8 676.0,314.8 675.1,312.1 673.5,306.2 672.2,301.9 671.1,298.5 669.6,292.9 668.2,288.1 666.8,283.1 665.0,276.0 663.3,269.7 662.1,265.9 660.5,259.8 659.2,255.4 658.1,252.1 656.5,245.9 655.3,242.2 653.9,237.3 652.8,233.8 651.6,229.9 650.6,227.2 649.3,222.7 648.2,219.2 647.2,216.3 646.4,214.4 645.3,211.1 644.6,209.3 643.9,207.9 643.1,206.1 642.3,204.2 641.5,202.4 640.9,201.1 640.1,199.1 639.4,197.7 638.9,197.2 638.4,196.9 637.8,195.9 637.5,196.4 637.0,195.9 636.5,195.3 636.3,196.2 636.1,197.0 635.5,195.9 635.3,196.9 635.2,198.6 635.2,200.2 634.9,200.6 634.6,201.1 634.5,202.3 634.3,203.0 633.8,202.6 633.2,201.4 633.1,202.6 632.7,202.5" fill="#c4c4c4"/>
<polygon points="746.8,510.4 1381.0,301.3 1391.5,256.2 1388.1,258.3 1384.2,262.8 1380.5,266.6 1376.5,271.3 1372.9,274.8 1369.0,279.3 1365.2,283.3 1361.7,286.5 1358.1,289.6 1354.8,291.7 1351.0,296.0 1347.4,299.0 1344.3,300.4 1340.8,303.0 1337.6,304.4 1333.8,308.6 1330.7,309.5 1327.5,311.4 1324.0,314.1 1321.3,312.7 1317.7,316.3 1314.5,317.7 1311.6,317.5 1308.4,319.1 1305.6,318.2 1302.4,319.4 1299.3,320.2 1296.2,320.4 1293.7,318.1 1290.5,319.1 1287.9,317.0 1284.8,317.3 1282.2,315.0 1279.0,315.9 1276.1,314.9 1273.3,313.6 1270.8,310.4 1267.8,309.4 1264.9,308.3 1262.1,306.5 1259.6,302.6 1256.9,300.0 1253.8,299.6 1250.6,300.1 1247.7,298.7 1244.7,297.4 1241.7,296.2 1238.5,295.8 1235.4,295.1 1232.6,292.7 1229.5,291.6 1226.0,293.7 1223.0,291.3 1219.5,293.2 1216.3,292.6 1213.0,292.9 1209.6,293.7 1205.8,297.7 1202.5,298.1 1199.1,298.6 1195.7,299.2 1191.9,303.9 1188.4,305.3 1185.0,305.8 1181.1,310.7 1177.6,312.4 1173.9,315.4 1170.4,317.3 1166.8,319.6 1162.8,325.3 1159.3,326.9 1155.6,330.5 1151.9,333.9 1148.1,338.7 1144.4,341.8 1140.4,348.4 1136.7,352.3 1133.0,356.7 1129.4,358.7 1125.7,363.1 1122.0,367.1 1118.3,370.6 1114.8,371.9 1111.2,375.2 1107.6,377.6 1104.0,381.1 1100.5,383.2 1096.8,386.5 1093.4,386.8 1089.7,390.8 1086.3,391.1 1082.8,391.7 1079.3,393.2 1075.7,396.1 1072.2,396.6 1068.8,395.4 1065.3,396.6 1061.8,396.2 1058.3,396.4 1054.8,397.7 1051.3,396.1 1047.8,396.3 1044.2,397.0 1040.7,396.2 1037.1,396.3 1033.6,394.3 1030.1,391.5 1026.5,392.9 1022.9,390.0 1019.3,389.8 1015.7,387.8 1012.1,383.5 1008.4,383.1 1004.7,382.2 1001.0,380.5 997.3,377.7 993.6,376.8 989.8,377.7 986.0,376.2 982.2,373.2 978.5,375.2 974.6,373.8 970.8,374.2 967.0,373.1 963.1,374.0 959.3,373.8 955.5,375.4 951.6,377.4 947.8,378.6 943.9,380.2 940.0,379.3 936.2,383.4 932.4,385.6 928.4,384.6 924.7,389.5 920.7,389.7 917.0,395.1 913.2,396.7 909.4,400.6 905.5,401.8 901.8,405.9 898.0,409.3 894.2,412.6 890.4,416.0 886.8,421.7 883.1,425.1 879.5,430.5 875.9,436.0 872.0,437.9 868.4,442.5 864.6,445.5 861.1,451.0 857.3,453.4 853.6,456.9 849.8,459.2 846.3,464.1 842.4,466.1 838.6,468.3 834.9,472.0 831.0,472.8 827.1,474.3 823.3,477.2 819.4,478.2 815.5,479.9 811.7,482.4 807.7,483.2 803.4,482.2 799.7,484.9 795.6,485.2 791.6,486.7 787.4,486.5 783.3,486.7 778.7,484.3 774.5,484.6 770.2,483.7 765.8,482.7 761.6,483.1 757.0,481.2 752.7,481.4 748.3,480.6 743.4,477.5" fill="url(#ffront)"/>
<path d="M746.8 510.4l7.2 19.9M756.9 507.1l4.5 12.5M766.9 503.8l7.2 19.8M776.9 500.5l4.5 12.5M786.8 497.2l7.1 19.8M796.7 493.9l4.5 12.4M806.6 490.7l7.1 19.7M816.4 487.4l4.5 12.4M826.2 484.2l7.1 19.6M835.9 481.0l4.5 12.3M845.6 477.8l7.1 19.5M855.2 474.6l4.4 12.3M864.8 471.5l7.0 19.4M874.4 468.3l4.4 12.2M884.0 465.2l7.0 19.4M893.4 462.0l4.4 12.2M902.9 458.9l7.0 19.3M912.3 455.8l4.4 12.1M921.7 452.7l6.9 19.2M931.0 449.6l4.4 12.1M940.3 446.6l6.9 19.1M949.6 443.5l4.3 12.0M958.8 440.5l6.9 19.0M968.0 437.4l4.3 12.0M977.2 434.4l6.9 18.9M986.3 431.4l4.3 11.9M995.3 428.4l6.8 18.9M1004.4 425.5l4.3 11.9M1013.4 422.5l6.8 18.8M1022.3 419.5l4.3 11.8M1031.3 416.6l6.8 18.7M1040.2 413.7l4.3 11.8M1049.0 410.7l6.7 18.6M1057.9 407.8l4.2 11.7M1066.6 404.9l6.7 18.5M1075.4 402.0l4.2 11.6M1084.1 399.2l6.7 18.4M1092.8 396.3l4.2 11.6M1101.4 393.5l6.6 18.4M1110.1 390.6l4.2 11.5M1118.6 387.8l6.6 18.3M1127.2 385.0l4.2 11.5M1135.7 382.2l6.6 18.2M1144.2 379.4l4.1 11.4M1152.6 376.6l6.6 18.1M1161.0 373.8l4.1 11.4M1169.4 371.0l6.5 18.0M1177.8 368.3l4.1 11.3M1186.1 365.6l6.5 18.0M1194.4 362.8l4.1 11.3M1202.6 360.1l6.5 17.9M1210.9 357.4l4.1 11.2M1219.0 354.7l6.4 17.8M1227.2 352.0l4.0 11.2M1235.3 349.3l6.4 17.7M1243.4 346.7l4.0 11.1M1251.5 344.0l6.4 17.6M1259.5 341.3l4.0 11.1M1267.5 338.7l6.3 17.5M1275.5 336.1l4.0 11.0M1283.4 333.5l6.3 17.5M1291.4 330.9l4.0 11.0M1299.2 328.3l6.3 17.4M1307.1 325.7l3.9 10.9M1314.9 323.1l6.3 17.3M1322.7 320.5l3.9 10.9M1330.5 318.0l6.2 17.2M1338.2 315.4l3.9 10.8M1345.9 312.9l6.2 17.1M1353.6 310.3l3.9 10.8M1361.3 307.8l6.2 17.0M1368.9 305.3l3.9 10.7M1376.5 302.8l6.1 17.0M635.4 215.8l-14.8 9.2M637.4 221.0l-9.2 5.7M639.3 226.2l-14.9 9.3M641.3 231.4l-9.3 5.8M643.3 236.7l-15.0 9.3M645.3 242.0l-9.3 5.8M647.3 247.3l-15.1 9.4M649.4 252.7l-9.4 5.8M651.4 258.2l-15.2 9.5M653.5 263.7l-9.4 5.9M655.6 269.2l-15.3 9.5M657.7 274.8l-9.5 5.9M659.8 280.4l-15.4 9.6M662.0 286.1l-9.6 6.0M664.1 291.8l-15.5 9.6M666.3 297.6l-9.6 6.0M668.5 303.4l-15.5 9.7M670.7 309.3l-9.7 6.0M673.0 315.2l-15.6 9.8M675.2 321.2l-9.7 6.1M677.5 327.2l-15.7 9.8M679.8 333.2l-9.8 6.1M682.1 339.4l-15.8 9.9M684.5 345.6l-9.8 6.1M686.8 351.8l-15.9 9.9M689.2 358.1l-9.9 6.2M691.6 364.4l-16.0 10.0M694.0 370.8l-10.0 6.2M696.5 377.3l-16.1 10.0M698.9 383.8l-10.0 6.2M701.4 390.4l-16.2 10.1M703.9 397.0l-10.1 6.3M706.4 403.7l-16.3 10.2M709.0 410.4l-10.1 6.3M711.6 417.3l-16.4 10.2M714.2 424.1l-10.2 6.4M716.8 431.1l-16.5 10.3M719.4 438.1l-10.3 6.4M722.1 445.2l-16.6 10.3M724.8 452.3l-10.3 6.4M727.5 459.5l-16.7 10.4M730.3 466.8l-10.4 6.5M733.1 474.1l-16.8 10.5M735.9 481.5l-10.4 6.5M738.7 489.0l-16.9 10.5M741.6 496.6l-10.5 6.5M744.5 504.2l-17.0 10.6M1381.0 301.3l14.8 8.3M1382.0 297.0l7.8 4.4M1383.0 292.7l7.8 4.4M1384.0 288.4l7.8 4.4M1385.0 284.0l7.8 4.4M1386.0 279.7l14.8 8.3M1387.1 275.3l7.8 4.4M1388.1 270.9l7.8 4.4M1389.1 266.4l7.8 4.4M1390.2 262.0l7.8 4.4M1391.2 257.5l14.8 8.3M1392.2 253.0l7.8 4.4M1393.3 248.4l7.8 4.4M1394.4 243.9l7.8 4.4M1395.4 239.3l7.8 4.4M1396.5 234.7l14.8 8.3M1397.6 230.1l7.8 4.4" stroke="#111" stroke-width="1.3" fill="none"/>
<g font-family="Liberation Sans, sans-serif" font-size="14" fill="#222" text-anchor="middle">
<text transform="translate(760.5,548.2) rotate(-18)">0</text>
<text transform="translate(859.3,515.5) rotate(-18)">50</text>
<text transform="translate(952.3,483.6) rotate(-18)">100</text>
<text transform="translate(1043,454.3) rotate(-18)">150</text>
<text transform="translate(1132,425.4) rotate(-18)">200</text>
<text transform="translate(1216.8,397.5) rotate(-18)">250</text>
<text transform="translate(1296.7,371.3) rotate(-18)">300</text>
<text transform="translate(1376.3,345.1) rotate(-18)">350</text>
<text transform="translate(1101.7,467) rotate(-18)">µm</text>
<text transform="translate(601,241) rotate(70)">0</text>
<text transform="translate(619.8,295.7) rotate(70)">50</text>
<text transform="translate(641.6,353.6) rotate(70)">100</text>
<text transform="translate(664.6,417.3) rotate(70)">150</text>
<text transform="translate(690.4,486.5) rotate(70)">200</text>
<text transform="translate(618.5,402) rotate(70)">µm</text>
<text x="1425" y="251.5">15</text>
<text x="1423.8" y="280">10</text>
<text x="1408" y="300.3">5</text>
<text x="1407.5" y="326">0</text>
</g>
<rect x="1301.5" y="421.5" width="78" height="53" fill="#fff" stroke="#dadada" stroke-width="1.2"/>
<g font-family="Liberation Sans, sans-serif" font-size="12" fill="#222" letter-spacing="0.25">
<text x="1308" y="437.5">X = 363 µm</text><text x="1308" y="452">Y = 234 µm</text><text x="1308" y="466.5">Z = 16.4 µm</text>
</g>
<defs><linearGradient id="cfill" x1="0" y1="0" x2="0" y2="1"><stop offset="0" stop-color="#d3d3f7"/><stop offset="1" stop-color="#e6e6fb"/></linearGradient></defs>
<path d="M647.7 764.3L647.7 660.3C649.0 659.9 653.4 658.2 655.4 658.1C657.4 658.0 657.9 659.8 659.5 659.5C661.1 659.2 662.9 656.7 664.9 656.2C666.9 655.7 668.8 656.0 671.7 656.7C674.7 657.4 679.2 659.2 682.6 660.3C686.0 661.4 689.2 662.0 692.2 663.5C695.2 665.0 697.8 668.2 700.3 669.5C702.8 670.8 705.3 670.4 707.1 671.2C708.9 672.0 709.4 672.4 711.2 674.4C713.0 676.4 716.0 681.3 718.0 683.2C720.0 685.1 721.2 683.4 723.5 685.9C725.8 688.4 729.0 695.5 731.7 698.4C734.4 701.2 737.1 700.6 739.8 703.0C742.5 705.4 744.8 708.5 748.0 712.6C751.2 716.7 755.7 724.4 758.9 727.6C762.1 730.8 763.5 728.8 767.1 731.6C770.7 734.5 777.1 742.2 780.7 744.7C784.3 747.2 785.3 745.6 788.9 746.6C792.5 747.6 798.9 749.6 802.5 750.7C806.1 751.8 808.1 753.3 810.6 753.4C813.1 753.5 815.2 751.8 817.5 751.3C819.8 750.8 822.0 750.7 824.3 750.7C826.5 750.7 829.0 751.8 831.0 751.3C833.0 750.8 834.4 750.0 836.5 748.0C838.6 746.0 840.2 741.8 843.5 739.6C846.8 737.4 852.3 738.1 856.0 734.8C859.7 731.5 862.5 722.2 865.8 720.0C869.1 717.8 872.3 723.2 875.6 721.4C878.9 719.5 882.1 713.1 885.4 708.9C888.6 704.7 892.3 698.7 895.1 696.3C897.9 693.9 899.1 696.6 902.1 694.3C905.1 692.0 909.6 686.5 913.3 682.3C917.0 678.1 921.1 672.0 924.4 669.2C927.6 666.4 930.0 667.1 932.8 665.6C935.6 664.1 938.4 661.9 941.2 660.0C944.0 658.1 947.3 655.3 949.6 654.4C951.9 653.5 952.9 654.6 955.2 654.4C957.5 654.2 960.9 653.3 963.5 653.0C966.1 652.7 969.1 651.9 971.0 652.5C972.9 653.1 972.7 656.0 974.7 656.7C976.7 657.4 980.0 656.9 983.0 656.7C986.0 656.5 990.0 654.9 992.8 655.3C995.6 655.7 997.7 658.4 999.8 659.2C1001.9 660.0 1002.1 657.3 1005.4 660.0C1008.7 662.7 1014.8 671.2 1019.4 675.4C1024.0 679.6 1029.6 681.9 1033.3 685.1C1037.0 688.4 1038.4 692.1 1041.7 694.9C1045.0 697.7 1049.2 698.6 1052.9 701.9C1056.6 705.1 1060.8 710.4 1064.0 714.4C1067.2 718.4 1069.1 722.6 1072.4 725.6C1075.7 728.6 1079.6 729.4 1083.6 732.6C1087.5 735.8 1092.4 742.4 1096.1 744.6C1099.8 746.8 1102.4 745.1 1105.9 745.7C1109.4 746.4 1113.7 747.9 1117.0 748.5C1120.3 749.1 1123.4 748.8 1125.7 749.3C1128.0 749.8 1128.7 751.4 1131.0 751.3C1133.3 751.2 1137.1 748.8 1139.4 748.5C1141.7 748.2 1142.7 750.5 1145.0 749.3C1147.3 748.0 1150.5 743.1 1153.3 741.0C1156.1 738.9 1158.9 738.9 1161.7 736.8C1164.5 734.7 1166.3 731.1 1170.0 728.4C1173.7 725.7 1179.8 723.2 1184.0 720.6C1188.2 718.0 1191.0 717.5 1195.2 713.0C1199.4 708.5 1205.3 697.6 1209.0 693.5C1212.7 689.4 1215.2 689.5 1217.2 688.1C1219.2 686.7 1219.5 687.3 1221.3 685.3C1223.1 683.2 1225.1 678.8 1228.1 675.8C1231.0 672.8 1236.0 668.7 1239.0 667.1C1242.0 665.5 1243.5 667.1 1245.8 666.3C1248.1 665.5 1250.2 663.6 1252.7 662.2C1255.2 660.8 1258.5 659.6 1260.8 658.1C1263.1 656.6 1264.2 654.5 1266.3 653.5C1268.3 652.5 1270.8 652.3 1273.1 652.1C1275.4 651.9 1277.9 652.2 1279.9 652.1C1281.9 652.0 1283.5 651.1 1285.3 651.3C1287.1 651.5 1289.0 652.1 1290.8 653.2C1292.6 654.3 1293.9 657.4 1296.2 658.1C1298.5 658.8 1301.7 656.5 1304.4 657.6C1307.1 658.7 1309.9 662.6 1312.6 664.9C1315.3 667.2 1318.1 670.1 1320.8 671.2C1323.5 672.3 1326.7 670.9 1329.0 671.7C1331.3 672.5 1332.2 672.2 1334.4 675.8C1336.7 679.4 1339.8 690.0 1342.5 693.5C1345.2 697.0 1348.4 695.4 1350.7 696.8C1353.0 698.2 1353.9 698.8 1356.2 701.7C1358.5 704.6 1361.3 710.4 1364.3 714.0C1367.2 717.6 1372.3 721.9 1373.9 723.5L1373.9 764.3Z" fill="url(#cfill)"/>
<path d="M647.7 660.3C649.0 659.9 653.4 658.2 655.4 658.1C657.4 658.0 657.9 659.8 659.5 659.5C661.1 659.2 662.9 656.7 664.9 656.2C666.9 655.7 668.8 656.0 671.7 656.7C674.7 657.4 679.2 659.2 682.6 660.3C686.0 661.4 689.2 662.0 692.2 663.5C695.2 665.0 697.8 668.2 700.3 669.5C702.8 670.8 705.3 670.4 707.1 671.2C708.9 672.0 709.4 672.4 711.2 674.4C713.0 676.4 716.0 681.3 718.0 683.2C720.0 685.1 721.2 683.4 723.5 685.9C725.8 688.4 729.0 695.5 731.7 698.4C734.4 701.2 737.1 700.6 739.8 703.0C742.5 705.4 744.8 708.5 748.0 712.6C751.2 716.7 755.7 724.4 758.9 727.6C762.1 730.8 763.5 728.8 767.1 731.6C770.7 734.5 777.1 742.2 780.7 744.7C784.3 747.2 785.3 745.6 788.9 746.6C792.5 747.6 798.9 749.6 802.5 750.7C806.1 751.8 808.1 753.3 810.6 753.4C813.1 753.5 815.2 751.8 817.5 751.3C819.8 750.8 822.0 750.7 824.3 750.7C826.5 750.7 829.0 751.8 831.0 751.3C833.0 750.8 834.4 750.0 836.5 748.0C838.6 746.0 840.2 741.8 843.5 739.6C846.8 737.4 852.3 738.1 856.0 734.8C859.7 731.5 862.5 722.2 865.8 720.0C869.1 717.8 872.3 723.2 875.6 721.4C878.9 719.5 882.1 713.1 885.4 708.9C888.6 704.7 892.3 698.7 895.1 696.3C897.9 693.9 899.1 696.6 902.1 694.3C905.1 692.0 909.6 686.5 913.3 682.3C917.0 678.1 921.1 672.0 924.4 669.2C927.6 666.4 930.0 667.1 932.8 665.6C935.6 664.1 938.4 661.9 941.2 660.0C944.0 658.1 947.3 655.3 949.6 654.4C951.9 653.5 952.9 654.6 955.2 654.4C957.5 654.2 960.9 653.3 963.5 653.0C966.1 652.7 969.1 651.9 971.0 652.5C972.9 653.1 972.7 656.0 974.7 656.7C976.7 657.4 980.0 656.9 983.0 656.7C986.0 656.5 990.0 654.9 992.8 655.3C995.6 655.7 997.7 658.4 999.8 659.2C1001.9 660.0 1002.1 657.3 1005.4 660.0C1008.7 662.7 1014.8 671.2 1019.4 675.4C1024.0 679.6 1029.6 681.9 1033.3 685.1C1037.0 688.4 1038.4 692.1 1041.7 694.9C1045.0 697.7 1049.2 698.6 1052.9 701.9C1056.6 705.1 1060.8 710.4 1064.0 714.4C1067.2 718.4 1069.1 722.6 1072.4 725.6C1075.7 728.6 1079.6 729.4 1083.6 732.6C1087.5 735.8 1092.4 742.4 1096.1 744.6C1099.8 746.8 1102.4 745.1 1105.9 745.7C1109.4 746.4 1113.7 747.9 1117.0 748.5C1120.3 749.1 1123.4 748.8 1125.7 749.3C1128.0 749.8 1128.7 751.4 1131.0 751.3C1133.3 751.2 1137.1 748.8 1139.4 748.5C1141.7 748.2 1142.7 750.5 1145.0 749.3C1147.3 748.0 1150.5 743.1 1153.3 741.0C1156.1 738.9 1158.9 738.9 1161.7 736.8C1164.5 734.7 1166.3 731.1 1170.0 728.4C1173.7 725.7 1179.8 723.2 1184.0 720.6C1188.2 718.0 1191.0 717.5 1195.2 713.0C1199.4 708.5 1205.3 697.6 1209.0 693.5C1212.7 689.4 1215.2 689.5 1217.2 688.1C1219.2 686.7 1219.5 687.3 1221.3 685.3C1223.1 683.2 1225.1 678.8 1228.1 675.8C1231.0 672.8 1236.0 668.7 1239.0 667.1C1242.0 665.5 1243.5 667.1 1245.8 666.3C1248.1 665.5 1250.2 663.6 1252.7 662.2C1255.2 660.8 1258.5 659.6 1260.8 658.1C1263.1 656.6 1264.2 654.5 1266.3 653.5C1268.3 652.5 1270.8 652.3 1273.1 652.1C1275.4 651.9 1277.9 652.2 1279.9 652.1C1281.9 652.0 1283.5 651.1 1285.3 651.3C1287.1 651.5 1289.0 652.1 1290.8 653.2C1292.6 654.3 1293.9 657.4 1296.2 658.1C1298.5 658.8 1301.7 656.5 1304.4 657.6C1307.1 658.7 1309.9 662.6 1312.6 664.9C1315.3 667.2 1318.1 670.1 1320.8 671.2C1323.5 672.3 1326.7 670.9 1329.0 671.7C1331.3 672.5 1332.2 672.2 1334.4 675.8C1336.7 679.4 1339.8 690.0 1342.5 693.5C1345.2 697.0 1348.4 695.4 1350.7 696.8C1353.0 698.2 1353.9 698.8 1356.2 701.7C1358.5 704.6 1361.3 710.4 1364.3 714.0C1367.2 717.6 1372.3 721.9 1373.9 723.5" fill="none" stroke="#3d9fdc" stroke-width="1.3" stroke-linejoin="round"/>
<rect x="648.0" y="636.4" width="735.0" height="127.89999999999998" fill="none" stroke="#000" stroke-width="1.6"/>
<line x1="648.0" y1="764.3" x2="648.0" y2="603.6" stroke="#000" stroke-width="1.5"/>
<polyline points="641.5,623.3 648.0,603.8 654.2,623.3" fill="none" stroke="#000" stroke-width="1.5"/>
<line x1="1383.0" y1="764.3" x2="1416" y2="764.3" stroke="#000" stroke-width="1.5"/>
<polyline points="1396,758.6 1415.6,764.3 1396,770" fill="none" stroke="#000" stroke-width="1.5"/>
<path d="M650.63 636.4v-3.2M650.63 764.3v3.7M656.80 636.4v-3.2M656.80 764.3v3.7M662.97 636.4v-3.2M662.97 764.3v3.7M669.13 636.4v-6.5M669.13 764.3v7.0M675.30 636.4v-3.2M675.30 764.3v3.7M681.47 636.4v-3.2M681.47 764.3v3.7M687.64 636.4v-3.2M687.64 764.3v3.7M693.81 636.4v-3.2M693.81 764.3v3.7M699.98 636.4v-6.5M699.98 764.3v7.0M706.15 636.4v-3.2M706.15 764.3v3.7M712.32 636.4v-3.2M712.32 764.3v3.7M718.49 636.4v-3.2M718.49 764.3v3.7M724.66 636.4v-3.2M724.66 764.3v3.7M730.83 636.4v-6.5M730.83 764.3v7.0M736.99 636.4v-3.2M736.99 764.3v3.7M743.16 636.4v-3.2M743.16 764.3v3.7M749.33 636.4v-3.2M749.33 764.3v3.7M755.50 636.4v-3.2M755.50 764.3v3.7M761.67 636.4v-6.5M761.67 764.3v7.0M767.84 636.4v-3.2M767.84 764.3v3.7M774.01 636.4v-3.2M774.01 764.3v3.7M780.18 636.4v-3.2M780.18 764.3v3.7M786.35 636.4v-3.2M786.35 764.3v3.7M792.51 636.4v-6.5M792.51 764.3v7.0M798.68 636.4v-3.2M798.68 764.3v3.7M804.85 636.4v-3.2M804.85 764.3v3.7M811.02 636.4v-3.2M811.02 764.3v3.7M817.19 636.4v-3.2M817.19 764.3v3.7M823.36 636.4v-6.5M823.36 764.3v7.0M829.53 636.4v-3.2M829.53 764.3v3.7M835.70 636.4v-3.2M835.70 764.3v3.7M841.87 636.4v-3.2M841.87 764.3v3.7M848.04 636.4v-3.2M848.04 764.3v3.7M854.20 636.4v-6.5M854.20 764.3v7.0M860.37 636.4v-3.2M860.37 764.3v3.7M866.54 636.4v-3.2M866.54 764.3v3.7M872.71 636.4v-3.2M872.71 764.3v3.7M878.88 636.4v-3.2M878.88 764.3v3.7M885.05 636.4v-6.5M885.05 764.3v7.0M891.22 636.4v-3.2M891.22 764.3v3.7M897.39 636.4v-3.2M897.39 764.3v3.7M903.56 636.4v-3.2M903.56 764.3v3.7M909.73 636.4v-3.2M909.73 764.3v3.7M915.89 636.4v-6.5M915.89 764.3v7.0M922.06 636.4v-3.2M922.06 764.3v3.7M928.23 636.4v-3.2M928.23 764.3v3.7M934.40 636.4v-3.2M934.40 764.3v3.7M940.57 636.4v-3.2M940.57 764.3v3.7M946.74 636.4v-6.5M946.74 764.3v7.0M952.91 636.4v-3.2M952.91 764.3v3.7M959.08 636.4v-3.2M959.08 764.3v3.7M965.25 636.4v-3.2M965.25 764.3v3.7M971.42 636.4v-3.2M971.42 764.3v3.7M977.59 636.4v-6.5M977.59 764.3v7.0M983.75 636.4v-3.2M983.75 764.3v3.7M989.92 636.4v-3.2M989.92 764.3v3.7M996.09 636.4v-3.2M996.09 764.3v3.7M1002.26 636.4v-3.2M1002.26 764.3v3.7M1008.43 636.4v-6.5M1008.43 764.3v7.0M1014.60 636.4v-3.2M1014.60 764.3v3.7M1020.77 636.4v-3.2M1020.77 764.3v3.7M1026.94 636.4v-3.2M1026.94 764.3v3.7M1033.11 636.4v-3.2M1033.11 764.3v3.7M1039.28 636.4v-6.5M1039.28 764.3v7.0M1045.44 636.4v-3.2M1045.44 764.3v3.7M1051.61 636.4v-3.2M1051.61 764.3v3.7M1057.78 636.4v-3.2M1057.78 764.3v3.7M1063.95 636.4v-3.2M1063.95 764.3v3.7M1070.12 636.4v-6.5M1070.12 764.3v7.0M1076.29 636.4v-3.2M1076.29 764.3v3.7M1082.46 636.4v-3.2M1082.46 764.3v3.7M1088.63 636.4v-3.2M1088.63 764.3v3.7M1094.80 636.4v-3.2M1094.80 764.3v3.7M1100.97 636.4v-6.5M1100.97 764.3v7.0M1107.13 636.4v-3.2M1107.13 764.3v3.7M1113.30 636.4v-3.2M1113.30 764.3v3.7M1119.47 636.4v-3.2M1119.47 764.3v3.7M1125.64 636.4v-3.2M1125.64 764.3v3.7M1131.81 636.4v-6.5M1131.81 764.3v7.0M1137.98 636.4v-3.2M1137.98 764.3v3.7M1144.15 636.4v-3.2M1144.15 764.3v3.7M1150.32 636.4v-3.2M1150.32 764.3v3.7M1156.49 636.4v-3.2M1156.49 764.3v3.7M1162.65 636.4v-6.5M1162.65 764.3v7.0M1168.82 636.4v-3.2M1168.82 764.3v3.7M1174.99 636.4v-3.2M1174.99 764.3v3.7M1181.16 636.4v-3.2M1181.16 764.3v3.7M1187.33 636.4v-3.2M1187.33 764.3v3.7M1193.50 636.4v-6.5M1193.50 764.3v7.0M1199.67 636.4v-3.2M1199.67 764.3v3.7M1205.84 636.4v-3.2M1205.84 764.3v3.7M1212.01 636.4v-3.2M1212.01 764.3v3.7M1218.18 636.4v-3.2M1218.18 764.3v3.7M1224.35 636.4v-6.5M1224.35 764.3v7.0M1230.51 636.4v-3.2M1230.51 764.3v3.7M1236.68 636.4v-3.2M1236.68 764.3v3.7M1242.85 636.4v-3.2M1242.85 764.3v3.7M1249.02 636.4v-3.2M1249.02 764.3v3.7M1255.19 636.4v-6.5M1255.19 764.3v7.0M1261.36 636.4v-3.2M1261.36 764.3v3.7M1267.53 636.4v-3.2M1267.53 764.3v3.7M1273.70 636.4v-3.2M1273.70 764.3v3.7M1279.87 636.4v-3.2M1279.87 764.3v3.7M1286.03 636.4v-6.5M1286.03 764.3v7.0M1292.20 636.4v-3.2M1292.20 764.3v3.7M1298.37 636.4v-3.2M1298.37 764.3v3.7M1304.54 636.4v-3.2M1304.54 764.3v3.7M1310.71 636.4v-3.2M1310.71 764.3v3.7M1316.88 636.4v-6.5M1316.88 764.3v7.0M1323.05 636.4v-3.2M1323.05 764.3v3.7M1329.22 636.4v-3.2M1329.22 764.3v3.7M1335.39 636.4v-3.2M1335.39 764.3v3.7M1341.56 636.4v-3.2M1341.56 764.3v3.7M1347.72 636.4v-6.5M1347.72 764.3v7.0M1353.89 636.4v-3.2M1353.89 764.3v3.7M1360.06 636.4v-3.2M1360.06 764.3v3.7M1366.23 636.4v-3.2M1366.23 764.3v3.7M1372.40 636.4v-3.2M1372.40 764.3v3.7M1378.57 636.4v-6.5M1378.57 764.3v7.0M648.0 760.95h-2.8M1383.0 760.95h2.8M648.0 753.90h-2.8M1383.0 753.90h2.8M648.0 746.85h-2.8M1383.0 746.85h2.8M648.0 739.80h-2.8M1383.0 739.80h2.8M648.0 732.75h-4.5M1383.0 732.75h4.5M648.0 725.70h-2.8M1383.0 725.70h2.8M648.0 718.65h-2.8M1383.0 718.65h2.8M648.0 711.60h-2.8M1383.0 711.60h2.8M648.0 704.55h-2.8M1383.0 704.55h2.8M648.0 697.50h-4.5M1383.0 697.50h4.5M648.0 690.45h-2.8M1383.0 690.45h2.8M648.0 683.40h-2.8M1383.0 683.40h2.8M648.0 676.35h-2.8M1383.0 676.35h2.8M648.0 669.30h-2.8M1383.0 669.30h2.8M648.0 662.25h-4.5M1383.0 662.25h4.5M648.0 655.20h-2.8M1383.0 655.20h2.8M648.0 648.15h-2.8M1383.0 648.15h2.8M648.0 641.10h-2.8M1383.0 641.10h2.8" stroke="#000" stroke-width="1.3" fill="none"/>
<g font-family="Liberation Sans, sans-serif" font-size="14" fill="#111" text-anchor="middle">
<text x="700.0" y="787">40</text>
<text x="761.7" y="787">60</text>
<text x="823.4" y="787">80</text>
<text x="885.0" y="787">100</text>
<text x="946.7" y="787">120</text>
<text x="1008.4" y="787">140</text>
<text x="1070.1" y="787">160</text>
<text x="1131.8" y="787">180</text>
<text x="1193.5" y="787">200</text>
<text x="1255.2" y="787">220</text>
<text x="1316.9" y="787">240</text>
<text x="1378.6" y="787">260</text>
<text x="1025" y="806">µm</text>
</g>
<g font-family="Liberation Sans, sans-serif" font-size="14" fill="#111" text-anchor="end">
<text x="635.6" y="668.2">5</text>
<text x="635.6" y="703.5">0</text>
<text x="635.6" y="738.8">-5</text>
</g>
<text x="0" y="0" transform="translate(608.6,693.3) rotate(-90)" font-family="Liberation Sans, sans-serif" font-size="14" fill="#111" text-anchor="middle">µm</text>
<line x1="817.2" y1="636.4" x2="817.2" y2="764.3" stroke="#2a2a2a" stroke-width="1.4"/>
<polygon points="812.0,742.1 822.4,742.1 817.2,750.7" fill="#808080"/>
<rect x="810.7" y="619" width="13" height="16" fill="#f5a11c" stroke="#3a2a10" stroke-width="1"/>
<text x="817.2" y="632" font-family="Liberation Sans, sans-serif" font-size="13" fill="#222" text-anchor="middle">0</text>
<line x1="971.4" y1="636.4" x2="971.4" y2="764.3" stroke="#2a2a2a" stroke-width="1.4"/>
<polygon points="966.2,645.0 976.6,645.0 971.4,653.6" fill="#808080"/>
<rect x="964.9" y="619" width="13" height="16" fill="#f5a11c" stroke="#3a2a10" stroke-width="1"/>
<text x="971.4" y="632" font-family="Liberation Sans, sans-serif" font-size="13" fill="#222" text-anchor="middle">1</text>
<line x1="1125.6" y1="636.4" x2="1125.6" y2="764.3" stroke="#2a2a2a" stroke-width="1.4"/>
<polygon points="1120.4,740.2 1130.8,740.2 1125.6,748.8" fill="#808080"/>
<rect x="1119.1" y="619" width="13" height="16" fill="#f5a11c" stroke="#3a2a10" stroke-width="1"/>
<text x="1125.6" y="632" font-family="Liberation Sans, sans-serif" font-size="13" fill="#222" text-anchor="middle">2</text>
<line x1="1279.9" y1="636.4" x2="1279.9" y2="764.3" stroke="#2a2a2a" stroke-width="1.4"/>
<polygon points="1274.7,641.9 1285.1,641.9 1279.9,650.5" fill="#808080"/>
<rect x="1273.4" y="619" width="13" height="16" fill="#f5a11c" stroke="#3a2a10" stroke-width="1"/>
<text x="1279.9" y="632" font-family="Liberation Sans, sans-serif" font-size="13" fill="#222" text-anchor="middle">3</text>
<circle cx="660.5" cy="643.5" r="4" fill="#e8eef8" stroke="#9aa4b8" stroke-width="1.2"/>
<line x1="663" y1="647" x2="668" y2="655" stroke="#d9a030" stroke-width="2.2"/>
<path d="M654.5 650.5v8M650.5 654.5h8" stroke="#333" stroke-width="1.6"/>
<text transform="translate(605.8,40.6) scale(0.965,1)" font-family="Liberation Sans, sans-serif" font-size="38" fill="#111">(b)</text>
<text transform="translate(600,585.6) scale(0.94,1)" font-family="Liberation Sans, sans-serif" font-size="36" fill="#111">(c)</text>
</svg>
</body></html>
